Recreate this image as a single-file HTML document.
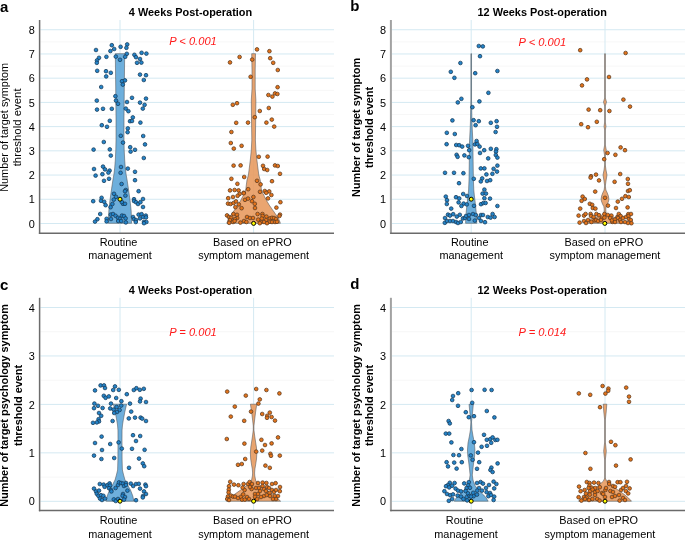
<!DOCTYPE html>
<html><head><meta charset="utf-8"><style>
html,body{margin:0;padding:0;background:#fff;}
svg{display:block;will-change:transform;}
text{font-family:"Liberation Sans",sans-serif;}
.t{font-size:10.9px;fill:#000;}
.tb{font-size:10.9px;font-weight:bold;fill:#000;}
.lab{font-size:15px;font-weight:bold;fill:#000;}
.p{font-size:11.15px;font-style:italic;fill:#ff1a1a;}
</style></head><body>
<svg width="685" height="540" viewBox="0 0 685 540">
<rect width="685" height="540" fill="#fff"/>
<line x1="40.4" x2="334" y1="211.39" y2="211.39" stroke="#f7f7f7" stroke-width="1"/>
<line x1="40.4" x2="334" y1="187.17" y2="187.17" stroke="#f7f7f7" stroke-width="1"/>
<line x1="40.4" x2="334" y1="162.95" y2="162.95" stroke="#f7f7f7" stroke-width="1"/>
<line x1="40.4" x2="334" y1="138.73" y2="138.73" stroke="#f7f7f7" stroke-width="1"/>
<line x1="40.4" x2="334" y1="114.51" y2="114.51" stroke="#f7f7f7" stroke-width="1"/>
<line x1="40.4" x2="334" y1="90.29" y2="90.29" stroke="#f7f7f7" stroke-width="1"/>
<line x1="40.4" x2="334" y1="66.07" y2="66.07" stroke="#f7f7f7" stroke-width="1"/>
<line x1="40.4" x2="334" y1="41.85" y2="41.85" stroke="#f7f7f7" stroke-width="1"/>
<line x1="40.4" x2="334" y1="223.50" y2="223.50" stroke="#d4e9f2" stroke-width="1"/>
<line x1="40.4" x2="334" y1="199.28" y2="199.28" stroke="#d4e9f2" stroke-width="1"/>
<line x1="40.4" x2="334" y1="175.06" y2="175.06" stroke="#d4e9f2" stroke-width="1"/>
<line x1="40.4" x2="334" y1="150.84" y2="150.84" stroke="#d4e9f2" stroke-width="1"/>
<line x1="40.4" x2="334" y1="126.62" y2="126.62" stroke="#d4e9f2" stroke-width="1"/>
<line x1="40.4" x2="334" y1="102.40" y2="102.40" stroke="#d4e9f2" stroke-width="1"/>
<line x1="40.4" x2="334" y1="78.18" y2="78.18" stroke="#d4e9f2" stroke-width="1"/>
<line x1="40.4" x2="334" y1="53.96" y2="53.96" stroke="#d4e9f2" stroke-width="1"/>
<line x1="40.4" x2="334" y1="29.74" y2="29.74" stroke="#d4e9f2" stroke-width="1"/>
<line x1="120.0" x2="120.0" y1="20" y2="233.3" stroke="#d4e9f2" stroke-width="1"/>
<line x1="253.6" x2="253.6" y1="20" y2="233.3" stroke="#d4e9f2" stroke-width="1"/>
<path d="M131.60,223.30 L131.60,220.00 L131.10,210.00 L130.00,200.00 L128.60,190.00 L127.10,180.00 L126.20,175.00 L125.30,168.00 L124.70,160.00 L124.20,150.00 L124.00,140.00 L124.00,118.00 L124.30,86.00 L124.70,53.70 L115.30,53.70 L115.70,86.00 L116.00,118.00 L116.00,140.00 L115.80,150.00 L115.30,160.00 L114.70,168.00 L113.80,175.00 L112.90,180.00 L111.40,190.00 L110.00,200.00 L108.90,210.00 L108.40,220.00 L108.40,223.30Z" fill="#5ea6d8" fill-opacity="0.9" stroke="#505356" stroke-width="0.55" stroke-linejoin="round"/>
<path d="M280.40,223.30 L279.20,220.00 L277.90,217.50 L275.00,213.30 L272.10,209.20 L269.20,205.00 L266.70,200.80 L264.60,196.70 L262.20,192.00 L261.25,188.30 L260.90,185.00 L260.20,180.00 L258.80,175.00 L257.90,168.00 L256.90,160.00 L255.90,150.00 L255.40,140.00 L255.70,120.00 L255.90,100.00 L255.20,89.00 L255.20,70.00 L255.50,53.70 L251.70,53.70 L252.00,70.00 L252.00,89.00 L251.30,100.00 L251.50,120.00 L251.80,140.00 L251.30,150.00 L250.30,160.00 L249.30,168.00 L248.40,175.00 L247.00,180.00 L246.30,185.00 L245.95,188.30 L245.00,192.00 L242.60,196.70 L240.50,200.80 L238.00,205.00 L235.10,209.20 L232.20,213.30 L229.30,217.50 L228.00,220.00 L226.80,223.30Z" fill="#e89b60" fill-opacity="0.9" stroke="#505356" stroke-width="0.55" stroke-linejoin="round"/>
<circle cx="96.0" cy="50.0" r="1.85" fill="#2484c9" stroke="#173a57" stroke-width="0.75"/>
<circle cx="111.8" cy="45.2" r="1.85" fill="#2484c9" stroke="#173a57" stroke-width="0.75"/>
<circle cx="114.2" cy="49.0" r="1.85" fill="#2484c9" stroke="#173a57" stroke-width="0.75"/>
<circle cx="110.4" cy="51.0" r="1.85" fill="#2484c9" stroke="#173a57" stroke-width="0.75"/>
<circle cx="120.6" cy="46.8" r="1.85" fill="#2484c9" stroke="#173a57" stroke-width="0.75"/>
<circle cx="127.2" cy="44.4" r="1.85" fill="#2484c9" stroke="#173a57" stroke-width="0.75"/>
<circle cx="126.4" cy="47.8" r="1.85" fill="#2484c9" stroke="#173a57" stroke-width="0.75"/>
<circle cx="126.8" cy="53.8" r="1.85" fill="#2484c9" stroke="#173a57" stroke-width="0.75"/>
<circle cx="125.2" cy="56.8" r="1.85" fill="#2484c9" stroke="#173a57" stroke-width="0.75"/>
<circle cx="115.8" cy="56.6" r="1.85" fill="#2484c9" stroke="#173a57" stroke-width="0.75"/>
<circle cx="120.0" cy="59.8" r="1.85" fill="#2484c9" stroke="#173a57" stroke-width="0.75"/>
<circle cx="106.4" cy="56.8" r="1.85" fill="#2484c9" stroke="#173a57" stroke-width="0.75"/>
<circle cx="99.0" cy="57.8" r="1.85" fill="#2484c9" stroke="#173a57" stroke-width="0.75"/>
<circle cx="97.0" cy="60.4" r="1.85" fill="#2484c9" stroke="#173a57" stroke-width="0.75"/>
<circle cx="96.8" cy="62.8" r="1.85" fill="#2484c9" stroke="#173a57" stroke-width="0.75"/>
<circle cx="134.4" cy="54.8" r="1.85" fill="#2484c9" stroke="#173a57" stroke-width="0.75"/>
<circle cx="136.0" cy="57.2" r="1.85" fill="#2484c9" stroke="#173a57" stroke-width="0.75"/>
<circle cx="141.6" cy="52.8" r="1.85" fill="#2484c9" stroke="#173a57" stroke-width="0.75"/>
<circle cx="146.4" cy="53.6" r="1.85" fill="#2484c9" stroke="#173a57" stroke-width="0.75"/>
<circle cx="140.0" cy="59.0" r="1.85" fill="#2484c9" stroke="#173a57" stroke-width="0.75"/>
<circle cx="137.0" cy="62.8" r="1.85" fill="#2484c9" stroke="#173a57" stroke-width="0.75"/>
<circle cx="141.4" cy="62.6" r="1.85" fill="#2484c9" stroke="#173a57" stroke-width="0.75"/>
<circle cx="97.2" cy="70.8" r="1.85" fill="#2484c9" stroke="#173a57" stroke-width="0.75"/>
<circle cx="106.0" cy="71.2" r="1.85" fill="#2484c9" stroke="#173a57" stroke-width="0.75"/>
<circle cx="110.8" cy="72.8" r="1.85" fill="#2484c9" stroke="#173a57" stroke-width="0.75"/>
<circle cx="106.2" cy="76.4" r="1.85" fill="#2484c9" stroke="#173a57" stroke-width="0.75"/>
<circle cx="140.0" cy="74.6" r="1.85" fill="#2484c9" stroke="#173a57" stroke-width="0.75"/>
<circle cx="146.0" cy="75.2" r="1.85" fill="#2484c9" stroke="#173a57" stroke-width="0.75"/>
<circle cx="143.8" cy="80.0" r="1.85" fill="#2484c9" stroke="#173a57" stroke-width="0.75"/>
<circle cx="122.0" cy="81.2" r="1.85" fill="#2484c9" stroke="#173a57" stroke-width="0.75"/>
<circle cx="125.0" cy="80.4" r="1.85" fill="#2484c9" stroke="#173a57" stroke-width="0.75"/>
<circle cx="122.8" cy="84.6" r="1.85" fill="#2484c9" stroke="#173a57" stroke-width="0.75"/>
<circle cx="101.2" cy="87.0" r="1.85" fill="#2484c9" stroke="#173a57" stroke-width="0.75"/>
<circle cx="115.4" cy="96.2" r="1.85" fill="#2484c9" stroke="#173a57" stroke-width="0.75"/>
<circle cx="116.0" cy="100.6" r="1.85" fill="#2484c9" stroke="#173a57" stroke-width="0.75"/>
<circle cx="118.0" cy="103.8" r="1.85" fill="#2484c9" stroke="#173a57" stroke-width="0.75"/>
<circle cx="96.8" cy="100.6" r="1.85" fill="#2484c9" stroke="#173a57" stroke-width="0.75"/>
<circle cx="132.0" cy="97.8" r="1.85" fill="#2484c9" stroke="#173a57" stroke-width="0.75"/>
<circle cx="146.0" cy="98.6" r="1.85" fill="#2484c9" stroke="#173a57" stroke-width="0.75"/>
<circle cx="127.0" cy="102.0" r="1.85" fill="#2484c9" stroke="#173a57" stroke-width="0.75"/>
<circle cx="140.0" cy="102.6" r="1.85" fill="#2484c9" stroke="#173a57" stroke-width="0.75"/>
<circle cx="144.6" cy="104.8" r="1.85" fill="#2484c9" stroke="#173a57" stroke-width="0.75"/>
<circle cx="142.8" cy="108.6" r="1.85" fill="#2484c9" stroke="#173a57" stroke-width="0.75"/>
<circle cx="97.0" cy="109.6" r="1.85" fill="#2484c9" stroke="#173a57" stroke-width="0.75"/>
<circle cx="103.0" cy="108.8" r="1.85" fill="#2484c9" stroke="#173a57" stroke-width="0.75"/>
<circle cx="111.8" cy="108.8" r="1.85" fill="#2484c9" stroke="#173a57" stroke-width="0.75"/>
<circle cx="125.8" cy="108.6" r="1.85" fill="#2484c9" stroke="#173a57" stroke-width="0.75"/>
<circle cx="128.4" cy="111.2" r="1.85" fill="#2484c9" stroke="#173a57" stroke-width="0.75"/>
<circle cx="132.8" cy="117.4" r="1.85" fill="#2484c9" stroke="#173a57" stroke-width="0.75"/>
<circle cx="130.0" cy="121.2" r="1.85" fill="#2484c9" stroke="#173a57" stroke-width="0.75"/>
<circle cx="132.0" cy="121.0" r="1.85" fill="#2484c9" stroke="#173a57" stroke-width="0.75"/>
<circle cx="140.4" cy="122.6" r="1.85" fill="#2484c9" stroke="#173a57" stroke-width="0.75"/>
<circle cx="109.8" cy="120.8" r="1.85" fill="#2484c9" stroke="#173a57" stroke-width="0.75"/>
<circle cx="101.8" cy="125.2" r="1.85" fill="#2484c9" stroke="#173a57" stroke-width="0.75"/>
<circle cx="107.0" cy="126.8" r="1.85" fill="#2484c9" stroke="#173a57" stroke-width="0.75"/>
<circle cx="127.8" cy="128.4" r="1.85" fill="#2484c9" stroke="#173a57" stroke-width="0.75"/>
<circle cx="127.6" cy="132.2" r="1.85" fill="#2484c9" stroke="#173a57" stroke-width="0.75"/>
<circle cx="120.8" cy="135.8" r="1.85" fill="#2484c9" stroke="#173a57" stroke-width="0.75"/>
<circle cx="143.2" cy="136.0" r="1.85" fill="#2484c9" stroke="#173a57" stroke-width="0.75"/>
<circle cx="103.8" cy="142.0" r="1.85" fill="#2484c9" stroke="#173a57" stroke-width="0.75"/>
<circle cx="123.0" cy="142.6" r="1.85" fill="#2484c9" stroke="#173a57" stroke-width="0.75"/>
<circle cx="145.0" cy="144.4" r="1.85" fill="#2484c9" stroke="#173a57" stroke-width="0.75"/>
<circle cx="93.6" cy="149.6" r="1.85" fill="#2484c9" stroke="#173a57" stroke-width="0.75"/>
<circle cx="109.8" cy="149.4" r="1.85" fill="#2484c9" stroke="#173a57" stroke-width="0.75"/>
<circle cx="130.2" cy="147.2" r="1.85" fill="#2484c9" stroke="#173a57" stroke-width="0.75"/>
<circle cx="135.0" cy="149.8" r="1.85" fill="#2484c9" stroke="#173a57" stroke-width="0.75"/>
<circle cx="130.6" cy="151.6" r="1.85" fill="#2484c9" stroke="#173a57" stroke-width="0.75"/>
<circle cx="110.8" cy="155.6" r="1.85" fill="#2484c9" stroke="#173a57" stroke-width="0.75"/>
<circle cx="143.8" cy="158.0" r="1.85" fill="#2484c9" stroke="#173a57" stroke-width="0.75"/>
<circle cx="103.0" cy="166.6" r="1.85" fill="#2484c9" stroke="#173a57" stroke-width="0.75"/>
<circle cx="105.0" cy="169.4" r="1.85" fill="#2484c9" stroke="#173a57" stroke-width="0.75"/>
<circle cx="109.6" cy="170.6" r="1.85" fill="#2484c9" stroke="#173a57" stroke-width="0.75"/>
<circle cx="108.4" cy="172.6" r="1.85" fill="#2484c9" stroke="#173a57" stroke-width="0.75"/>
<circle cx="94.0" cy="169.0" r="1.85" fill="#2484c9" stroke="#173a57" stroke-width="0.75"/>
<circle cx="102.4" cy="174.2" r="1.85" fill="#2484c9" stroke="#173a57" stroke-width="0.75"/>
<circle cx="95.6" cy="175.6" r="1.85" fill="#2484c9" stroke="#173a57" stroke-width="0.75"/>
<circle cx="121.0" cy="167.0" r="1.85" fill="#2484c9" stroke="#173a57" stroke-width="0.75"/>
<circle cx="120.6" cy="172.8" r="1.85" fill="#2484c9" stroke="#173a57" stroke-width="0.75"/>
<circle cx="127.8" cy="168.6" r="1.85" fill="#2484c9" stroke="#173a57" stroke-width="0.75"/>
<circle cx="135.0" cy="171.8" r="1.85" fill="#2484c9" stroke="#173a57" stroke-width="0.75"/>
<circle cx="109.0" cy="178.8" r="1.85" fill="#2484c9" stroke="#173a57" stroke-width="0.75"/>
<circle cx="104.0" cy="180.8" r="1.85" fill="#2484c9" stroke="#173a57" stroke-width="0.75"/>
<circle cx="135.0" cy="180.2" r="1.85" fill="#2484c9" stroke="#173a57" stroke-width="0.75"/>
<circle cx="121.6" cy="184.0" r="1.85" fill="#2484c9" stroke="#173a57" stroke-width="0.75"/>
<circle cx="125.8" cy="190.0" r="1.85" fill="#2484c9" stroke="#173a57" stroke-width="0.75"/>
<circle cx="125.0" cy="191.2" r="1.85" fill="#2484c9" stroke="#173a57" stroke-width="0.75"/>
<circle cx="138.6" cy="191.2" r="1.85" fill="#2484c9" stroke="#173a57" stroke-width="0.75"/>
<circle cx="114.0" cy="193.8" r="1.85" fill="#2484c9" stroke="#173a57" stroke-width="0.75"/>
<circle cx="116.0" cy="196.8" r="1.85" fill="#2484c9" stroke="#173a57" stroke-width="0.75"/>
<circle cx="113.8" cy="199.6" r="1.85" fill="#2484c9" stroke="#173a57" stroke-width="0.75"/>
<circle cx="125.4" cy="195.6" r="1.85" fill="#2484c9" stroke="#173a57" stroke-width="0.75"/>
<circle cx="101.6" cy="197.8" r="1.85" fill="#2484c9" stroke="#173a57" stroke-width="0.75"/>
<circle cx="101.0" cy="200.8" r="1.85" fill="#2484c9" stroke="#173a57" stroke-width="0.75"/>
<circle cx="93.2" cy="201.2" r="1.85" fill="#2484c9" stroke="#173a57" stroke-width="0.75"/>
<circle cx="104.2" cy="201.8" r="1.85" fill="#2484c9" stroke="#173a57" stroke-width="0.75"/>
<circle cx="105.6" cy="205.2" r="1.85" fill="#2484c9" stroke="#173a57" stroke-width="0.75"/>
<circle cx="112.4" cy="204.0" r="1.85" fill="#2484c9" stroke="#173a57" stroke-width="0.75"/>
<circle cx="110.6" cy="207.2" r="1.85" fill="#2484c9" stroke="#173a57" stroke-width="0.75"/>
<circle cx="123.0" cy="203.8" r="1.85" fill="#2484c9" stroke="#173a57" stroke-width="0.75"/>
<circle cx="125.0" cy="203.8" r="1.85" fill="#2484c9" stroke="#173a57" stroke-width="0.75"/>
<circle cx="121.8" cy="202.0" r="1.85" fill="#2484c9" stroke="#173a57" stroke-width="0.75"/>
<circle cx="134.0" cy="199.2" r="1.85" fill="#2484c9" stroke="#173a57" stroke-width="0.75"/>
<circle cx="134.0" cy="201.0" r="1.85" fill="#2484c9" stroke="#173a57" stroke-width="0.75"/>
<circle cx="136.0" cy="202.2" r="1.85" fill="#2484c9" stroke="#173a57" stroke-width="0.75"/>
<circle cx="138.0" cy="204.0" r="1.85" fill="#2484c9" stroke="#173a57" stroke-width="0.75"/>
<circle cx="140.4" cy="202.2" r="1.85" fill="#2484c9" stroke="#173a57" stroke-width="0.75"/>
<circle cx="143.0" cy="199.0" r="1.85" fill="#2484c9" stroke="#173a57" stroke-width="0.75"/>
<circle cx="143.0" cy="207.0" r="1.85" fill="#2484c9" stroke="#173a57" stroke-width="0.75"/>
<circle cx="100.2" cy="214.0" r="1.85" fill="#2484c9" stroke="#173a57" stroke-width="0.75"/>
<circle cx="97.4" cy="219.2" r="1.85" fill="#2484c9" stroke="#173a57" stroke-width="0.75"/>
<circle cx="95.0" cy="221.6" r="1.85" fill="#2484c9" stroke="#173a57" stroke-width="0.75"/>
<circle cx="106.6" cy="218.8" r="1.85" fill="#2484c9" stroke="#173a57" stroke-width="0.75"/>
<circle cx="106.6" cy="221.4" r="1.85" fill="#2484c9" stroke="#173a57" stroke-width="0.75"/>
<circle cx="111.0" cy="219.0" r="1.85" fill="#2484c9" stroke="#173a57" stroke-width="0.75"/>
<circle cx="110.8" cy="214.6" r="1.85" fill="#2484c9" stroke="#173a57" stroke-width="0.75"/>
<circle cx="113.0" cy="214.0" r="1.85" fill="#2484c9" stroke="#173a57" stroke-width="0.75"/>
<circle cx="115.6" cy="215.8" r="1.85" fill="#2484c9" stroke="#173a57" stroke-width="0.75"/>
<circle cx="118.0" cy="217.8" r="1.85" fill="#2484c9" stroke="#173a57" stroke-width="0.75"/>
<circle cx="120.0" cy="218.8" r="1.85" fill="#2484c9" stroke="#173a57" stroke-width="0.75"/>
<circle cx="122.0" cy="215.6" r="1.85" fill="#2484c9" stroke="#173a57" stroke-width="0.75"/>
<circle cx="124.0" cy="216.0" r="1.85" fill="#2484c9" stroke="#173a57" stroke-width="0.75"/>
<circle cx="125.6" cy="218.4" r="1.85" fill="#2484c9" stroke="#173a57" stroke-width="0.75"/>
<circle cx="118.2" cy="221.0" r="1.85" fill="#2484c9" stroke="#173a57" stroke-width="0.75"/>
<circle cx="121.2" cy="221.0" r="1.85" fill="#2484c9" stroke="#173a57" stroke-width="0.75"/>
<circle cx="125.8" cy="222.4" r="1.85" fill="#2484c9" stroke="#173a57" stroke-width="0.75"/>
<circle cx="133.0" cy="217.0" r="1.85" fill="#2484c9" stroke="#173a57" stroke-width="0.75"/>
<circle cx="134.0" cy="219.2" r="1.85" fill="#2484c9" stroke="#173a57" stroke-width="0.75"/>
<circle cx="136.0" cy="220.0" r="1.85" fill="#2484c9" stroke="#173a57" stroke-width="0.75"/>
<circle cx="135.8" cy="222.0" r="1.85" fill="#2484c9" stroke="#173a57" stroke-width="0.75"/>
<circle cx="138.6" cy="214.6" r="1.85" fill="#2484c9" stroke="#173a57" stroke-width="0.75"/>
<circle cx="141.6" cy="214.2" r="1.85" fill="#2484c9" stroke="#173a57" stroke-width="0.75"/>
<circle cx="140.0" cy="218.4" r="1.85" fill="#2484c9" stroke="#173a57" stroke-width="0.75"/>
<circle cx="143.0" cy="217.0" r="1.85" fill="#2484c9" stroke="#173a57" stroke-width="0.75"/>
<circle cx="145.8" cy="215.6" r="1.85" fill="#2484c9" stroke="#173a57" stroke-width="0.75"/>
<circle cx="146.0" cy="217.4" r="1.85" fill="#2484c9" stroke="#173a57" stroke-width="0.75"/>
<circle cx="144.0" cy="221.8" r="1.85" fill="#2484c9" stroke="#173a57" stroke-width="0.75"/>
<circle cx="146.4" cy="222.0" r="1.85" fill="#2484c9" stroke="#173a57" stroke-width="0.75"/>
<circle cx="144.0" cy="223.2" r="1.85" fill="#2484c9" stroke="#173a57" stroke-width="0.75"/>
<circle cx="257.0" cy="49.4" r="1.85" fill="#e4741b" stroke="#5a3a20" stroke-width="0.75"/>
<circle cx="269.4" cy="51.2" r="1.85" fill="#e4741b" stroke="#5a3a20" stroke-width="0.75"/>
<circle cx="239.6" cy="57.0" r="1.85" fill="#e4741b" stroke="#5a3a20" stroke-width="0.75"/>
<circle cx="230.0" cy="62.4" r="1.85" fill="#e4741b" stroke="#5a3a20" stroke-width="0.75"/>
<circle cx="252.2" cy="59.6" r="1.85" fill="#e4741b" stroke="#5a3a20" stroke-width="0.75"/>
<circle cx="270.2" cy="58.2" r="1.85" fill="#e4741b" stroke="#5a3a20" stroke-width="0.75"/>
<circle cx="273.2" cy="62.8" r="1.85" fill="#e4741b" stroke="#5a3a20" stroke-width="0.75"/>
<circle cx="277.8" cy="70.0" r="1.85" fill="#e4741b" stroke="#5a3a20" stroke-width="0.75"/>
<circle cx="250.6" cy="76.8" r="1.85" fill="#e4741b" stroke="#5a3a20" stroke-width="0.75"/>
<circle cx="277.6" cy="87.2" r="1.85" fill="#e4741b" stroke="#5a3a20" stroke-width="0.75"/>
<circle cx="268.4" cy="95.0" r="1.85" fill="#e4741b" stroke="#5a3a20" stroke-width="0.75"/>
<circle cx="272.4" cy="96.6" r="1.85" fill="#e4741b" stroke="#5a3a20" stroke-width="0.75"/>
<circle cx="275.0" cy="93.4" r="1.85" fill="#e4741b" stroke="#5a3a20" stroke-width="0.75"/>
<circle cx="277.4" cy="94.0" r="1.85" fill="#e4741b" stroke="#5a3a20" stroke-width="0.75"/>
<circle cx="232.8" cy="104.8" r="1.85" fill="#e4741b" stroke="#5a3a20" stroke-width="0.75"/>
<circle cx="237.0" cy="103.2" r="1.85" fill="#e4741b" stroke="#5a3a20" stroke-width="0.75"/>
<circle cx="268.8" cy="108.0" r="1.85" fill="#e4741b" stroke="#5a3a20" stroke-width="0.75"/>
<circle cx="259.8" cy="111.0" r="1.85" fill="#e4741b" stroke="#5a3a20" stroke-width="0.75"/>
<circle cx="254.8" cy="117.2" r="1.85" fill="#e4741b" stroke="#5a3a20" stroke-width="0.75"/>
<circle cx="236.2" cy="122.8" r="1.85" fill="#e4741b" stroke="#5a3a20" stroke-width="0.75"/>
<circle cx="248.0" cy="122.6" r="1.85" fill="#e4741b" stroke="#5a3a20" stroke-width="0.75"/>
<circle cx="266.4" cy="122.6" r="1.85" fill="#e4741b" stroke="#5a3a20" stroke-width="0.75"/>
<circle cx="271.8" cy="119.6" r="1.85" fill="#e4741b" stroke="#5a3a20" stroke-width="0.75"/>
<circle cx="274.2" cy="126.6" r="1.85" fill="#e4741b" stroke="#5a3a20" stroke-width="0.75"/>
<circle cx="231.4" cy="132.0" r="1.85" fill="#e4741b" stroke="#5a3a20" stroke-width="0.75"/>
<circle cx="230.8" cy="143.0" r="1.85" fill="#e4741b" stroke="#5a3a20" stroke-width="0.75"/>
<circle cx="241.6" cy="145.8" r="1.85" fill="#e4741b" stroke="#5a3a20" stroke-width="0.75"/>
<circle cx="233.8" cy="148.6" r="1.85" fill="#e4741b" stroke="#5a3a20" stroke-width="0.75"/>
<circle cx="258.8" cy="156.8" r="1.85" fill="#e4741b" stroke="#5a3a20" stroke-width="0.75"/>
<circle cx="267.6" cy="156.6" r="1.85" fill="#e4741b" stroke="#5a3a20" stroke-width="0.75"/>
<circle cx="233.6" cy="165.6" r="1.85" fill="#e4741b" stroke="#5a3a20" stroke-width="0.75"/>
<circle cx="240.6" cy="165.4" r="1.85" fill="#e4741b" stroke="#5a3a20" stroke-width="0.75"/>
<circle cx="263.0" cy="165.8" r="1.85" fill="#e4741b" stroke="#5a3a20" stroke-width="0.75"/>
<circle cx="264.2" cy="169.0" r="1.85" fill="#e4741b" stroke="#5a3a20" stroke-width="0.75"/>
<circle cx="267.2" cy="170.0" r="1.85" fill="#e4741b" stroke="#5a3a20" stroke-width="0.75"/>
<circle cx="275.0" cy="165.4" r="1.85" fill="#e4741b" stroke="#5a3a20" stroke-width="0.75"/>
<circle cx="277.8" cy="166.0" r="1.85" fill="#e4741b" stroke="#5a3a20" stroke-width="0.75"/>
<circle cx="280.0" cy="173.8" r="1.85" fill="#e4741b" stroke="#5a3a20" stroke-width="0.75"/>
<circle cx="231.4" cy="178.8" r="1.85" fill="#e4741b" stroke="#5a3a20" stroke-width="0.75"/>
<circle cx="244.2" cy="177.0" r="1.85" fill="#e4741b" stroke="#5a3a20" stroke-width="0.75"/>
<circle cx="257.0" cy="180.8" r="1.85" fill="#e4741b" stroke="#5a3a20" stroke-width="0.75"/>
<circle cx="260.6" cy="184.4" r="1.85" fill="#e4741b" stroke="#5a3a20" stroke-width="0.75"/>
<circle cx="272.0" cy="181.2" r="1.85" fill="#e4741b" stroke="#5a3a20" stroke-width="0.75"/>
<circle cx="237.4" cy="183.8" r="1.85" fill="#e4741b" stroke="#5a3a20" stroke-width="0.75"/>
<circle cx="230.0" cy="190.4" r="1.85" fill="#e4741b" stroke="#5a3a20" stroke-width="0.75"/>
<circle cx="234.6" cy="190.0" r="1.85" fill="#e4741b" stroke="#5a3a20" stroke-width="0.75"/>
<circle cx="238.6" cy="190.4" r="1.85" fill="#e4741b" stroke="#5a3a20" stroke-width="0.75"/>
<circle cx="248.2" cy="189.2" r="1.85" fill="#e4741b" stroke="#5a3a20" stroke-width="0.75"/>
<circle cx="243.6" cy="192.8" r="1.85" fill="#e4741b" stroke="#5a3a20" stroke-width="0.75"/>
<circle cx="260.0" cy="191.8" r="1.85" fill="#e4741b" stroke="#5a3a20" stroke-width="0.75"/>
<circle cx="264.8" cy="191.0" r="1.85" fill="#e4741b" stroke="#5a3a20" stroke-width="0.75"/>
<circle cx="269.2" cy="191.4" r="1.85" fill="#e4741b" stroke="#5a3a20" stroke-width="0.75"/>
<circle cx="266.2" cy="192.8" r="1.85" fill="#e4741b" stroke="#5a3a20" stroke-width="0.75"/>
<circle cx="239.6" cy="194.0" r="1.85" fill="#e4741b" stroke="#5a3a20" stroke-width="0.75"/>
<circle cx="237.6" cy="195.8" r="1.85" fill="#e4741b" stroke="#5a3a20" stroke-width="0.75"/>
<circle cx="243.8" cy="193.2" r="1.85" fill="#e4741b" stroke="#5a3a20" stroke-width="0.75"/>
<circle cx="228.2" cy="198.2" r="1.85" fill="#e4741b" stroke="#5a3a20" stroke-width="0.75"/>
<circle cx="233.0" cy="197.0" r="1.85" fill="#e4741b" stroke="#5a3a20" stroke-width="0.75"/>
<circle cx="245.0" cy="199.8" r="1.85" fill="#e4741b" stroke="#5a3a20" stroke-width="0.75"/>
<circle cx="248.0" cy="198.6" r="1.85" fill="#e4741b" stroke="#5a3a20" stroke-width="0.75"/>
<circle cx="253.4" cy="197.0" r="1.85" fill="#e4741b" stroke="#5a3a20" stroke-width="0.75"/>
<circle cx="252.0" cy="201.2" r="1.85" fill="#e4741b" stroke="#5a3a20" stroke-width="0.75"/>
<circle cx="254.8" cy="203.8" r="1.85" fill="#e4741b" stroke="#5a3a20" stroke-width="0.75"/>
<circle cx="255.0" cy="208.0" r="1.85" fill="#e4741b" stroke="#5a3a20" stroke-width="0.75"/>
<circle cx="228.0" cy="203.6" r="1.85" fill="#e4741b" stroke="#5a3a20" stroke-width="0.75"/>
<circle cx="230.6" cy="204.0" r="1.85" fill="#e4741b" stroke="#5a3a20" stroke-width="0.75"/>
<circle cx="233.6" cy="203.0" r="1.85" fill="#e4741b" stroke="#5a3a20" stroke-width="0.75"/>
<circle cx="236.0" cy="201.4" r="1.85" fill="#e4741b" stroke="#5a3a20" stroke-width="0.75"/>
<circle cx="238.8" cy="204.4" r="1.85" fill="#e4741b" stroke="#5a3a20" stroke-width="0.75"/>
<circle cx="235.4" cy="207.2" r="1.85" fill="#e4741b" stroke="#5a3a20" stroke-width="0.75"/>
<circle cx="241.6" cy="208.2" r="1.85" fill="#e4741b" stroke="#5a3a20" stroke-width="0.75"/>
<circle cx="271.4" cy="195.0" r="1.85" fill="#e4741b" stroke="#5a3a20" stroke-width="0.75"/>
<circle cx="268.0" cy="198.4" r="1.85" fill="#e4741b" stroke="#5a3a20" stroke-width="0.75"/>
<circle cx="280.4" cy="202.2" r="1.85" fill="#e4741b" stroke="#5a3a20" stroke-width="0.75"/>
<circle cx="276.4" cy="207.6" r="1.85" fill="#e4741b" stroke="#5a3a20" stroke-width="0.75"/>
<circle cx="280.0" cy="214.6" r="1.85" fill="#e4741b" stroke="#5a3a20" stroke-width="0.75"/>
<circle cx="279.4" cy="216.0" r="1.85" fill="#e4741b" stroke="#5a3a20" stroke-width="0.75"/>
<circle cx="227.0" cy="215.4" r="1.85" fill="#e4741b" stroke="#5a3a20" stroke-width="0.75"/>
<circle cx="229.0" cy="217.0" r="1.85" fill="#e4741b" stroke="#5a3a20" stroke-width="0.75"/>
<circle cx="231.0" cy="217.8" r="1.85" fill="#e4741b" stroke="#5a3a20" stroke-width="0.75"/>
<circle cx="233.4" cy="214.0" r="1.85" fill="#e4741b" stroke="#5a3a20" stroke-width="0.75"/>
<circle cx="237.0" cy="214.8" r="1.85" fill="#e4741b" stroke="#5a3a20" stroke-width="0.75"/>
<circle cx="237.2" cy="218.0" r="1.85" fill="#e4741b" stroke="#5a3a20" stroke-width="0.75"/>
<circle cx="235.0" cy="219.0" r="1.85" fill="#e4741b" stroke="#5a3a20" stroke-width="0.75"/>
<circle cx="230.0" cy="220.0" r="1.85" fill="#e4741b" stroke="#5a3a20" stroke-width="0.75"/>
<circle cx="229.2" cy="222.8" r="1.85" fill="#e4741b" stroke="#5a3a20" stroke-width="0.75"/>
<circle cx="233.0" cy="222.0" r="1.85" fill="#e4741b" stroke="#5a3a20" stroke-width="0.75"/>
<circle cx="234.6" cy="221.0" r="1.85" fill="#e4741b" stroke="#5a3a20" stroke-width="0.75"/>
<circle cx="240.4" cy="222.6" r="1.85" fill="#e4741b" stroke="#5a3a20" stroke-width="0.75"/>
<circle cx="244.0" cy="221.0" r="1.85" fill="#e4741b" stroke="#5a3a20" stroke-width="0.75"/>
<circle cx="247.0" cy="217.0" r="1.85" fill="#e4741b" stroke="#5a3a20" stroke-width="0.75"/>
<circle cx="246.4" cy="222.0" r="1.85" fill="#e4741b" stroke="#5a3a20" stroke-width="0.75"/>
<circle cx="250.0" cy="218.0" r="1.85" fill="#e4741b" stroke="#5a3a20" stroke-width="0.75"/>
<circle cx="253.0" cy="218.0" r="1.85" fill="#e4741b" stroke="#5a3a20" stroke-width="0.75"/>
<circle cx="257.6" cy="214.0" r="1.85" fill="#e4741b" stroke="#5a3a20" stroke-width="0.75"/>
<circle cx="258.2" cy="219.6" r="1.85" fill="#e4741b" stroke="#5a3a20" stroke-width="0.75"/>
<circle cx="262.4" cy="214.0" r="1.85" fill="#e4741b" stroke="#5a3a20" stroke-width="0.75"/>
<circle cx="262.6" cy="216.0" r="1.85" fill="#e4741b" stroke="#5a3a20" stroke-width="0.75"/>
<circle cx="261.8" cy="218.6" r="1.85" fill="#e4741b" stroke="#5a3a20" stroke-width="0.75"/>
<circle cx="261.0" cy="222.0" r="1.85" fill="#e4741b" stroke="#5a3a20" stroke-width="0.75"/>
<circle cx="259.8" cy="223.2" r="1.85" fill="#e4741b" stroke="#5a3a20" stroke-width="0.75"/>
<circle cx="266.4" cy="216.6" r="1.85" fill="#e4741b" stroke="#5a3a20" stroke-width="0.75"/>
<circle cx="266.0" cy="220.0" r="1.85" fill="#e4741b" stroke="#5a3a20" stroke-width="0.75"/>
<circle cx="267.0" cy="223.2" r="1.85" fill="#e4741b" stroke="#5a3a20" stroke-width="0.75"/>
<circle cx="270.0" cy="218.4" r="1.85" fill="#e4741b" stroke="#5a3a20" stroke-width="0.75"/>
<circle cx="272.0" cy="217.8" r="1.85" fill="#e4741b" stroke="#5a3a20" stroke-width="0.75"/>
<circle cx="274.0" cy="218.0" r="1.85" fill="#e4741b" stroke="#5a3a20" stroke-width="0.75"/>
<circle cx="276.0" cy="219.0" r="1.85" fill="#e4741b" stroke="#5a3a20" stroke-width="0.75"/>
<circle cx="270.0" cy="221.8" r="1.85" fill="#e4741b" stroke="#5a3a20" stroke-width="0.75"/>
<circle cx="272.0" cy="222.0" r="1.85" fill="#e4741b" stroke="#5a3a20" stroke-width="0.75"/>
<circle cx="275.0" cy="222.0" r="1.85" fill="#e4741b" stroke="#5a3a20" stroke-width="0.75"/>
<circle cx="277.0" cy="221.8" r="1.85" fill="#e4741b" stroke="#5a3a20" stroke-width="0.75"/>
<circle cx="264.0" cy="222.0" r="1.85" fill="#e4741b" stroke="#5a3a20" stroke-width="0.75"/>
<circle cx="120.0" cy="199.2" r="2.0" fill="#ffff00" stroke="#000" stroke-width="1.0"/>
<circle cx="253.6" cy="223.4" r="2.0" fill="#ffff00" stroke="#000" stroke-width="1.0"/>
<line x1="39.6" x2="39.6" y1="20" y2="234.0" stroke="#6c6c6c" stroke-width="1.5"/>
<line x1="38.9" x2="334" y1="233.3" y2="233.3" stroke="#6a6a6a" stroke-width="1.5"/>
<text x="34.9" y="227.65" text-anchor="end" class="t">0</text>
<text x="34.9" y="203.43" text-anchor="end" class="t">1</text>
<text x="34.9" y="179.21" text-anchor="end" class="t">2</text>
<text x="34.9" y="154.99" text-anchor="end" class="t">3</text>
<text x="34.9" y="130.77" text-anchor="end" class="t">4</text>
<text x="34.9" y="106.55" text-anchor="end" class="t">5</text>
<text x="34.9" y="82.33" text-anchor="end" class="t">6</text>
<text x="34.9" y="58.11" text-anchor="end" class="t">7</text>
<text x="34.9" y="33.89" text-anchor="end" class="t">8</text>
<text x="0.0" y="12.3" class="lab">a</text>
<text x="190.5" y="15.7" text-anchor="middle" class="tb">4 Weeks Post-operation</text>
<text x="169.2" y="45.1" class="p">P &lt; 0.001</text>
<text x="118.5" y="246.0" text-anchor="middle" class="t">Routine</text>
<text x="120.0" y="259.2" text-anchor="middle" class="t">management</text>
<text x="252.4" y="246.0" text-anchor="middle" class="t">Based on ePRO</text>
<text x="253.6" y="259.2" text-anchor="middle" class="t">symptom management</text>
<text transform="translate(8.1,127.4) rotate(-90)" text-anchor="middle" class="t">Number of target symptom</text>
<text transform="translate(20.8,127.4) rotate(-90)" text-anchor="middle" class="t" style="font-size:11.4px">threshold event</text>
<line x1="391.7" x2="685" y1="211.39" y2="211.39" stroke="#f7f7f7" stroke-width="1"/>
<line x1="391.7" x2="685" y1="187.17" y2="187.17" stroke="#f7f7f7" stroke-width="1"/>
<line x1="391.7" x2="685" y1="162.95" y2="162.95" stroke="#f7f7f7" stroke-width="1"/>
<line x1="391.7" x2="685" y1="138.73" y2="138.73" stroke="#f7f7f7" stroke-width="1"/>
<line x1="391.7" x2="685" y1="114.51" y2="114.51" stroke="#f7f7f7" stroke-width="1"/>
<line x1="391.7" x2="685" y1="90.29" y2="90.29" stroke="#f7f7f7" stroke-width="1"/>
<line x1="391.7" x2="685" y1="66.07" y2="66.07" stroke="#f7f7f7" stroke-width="1"/>
<line x1="391.7" x2="685" y1="41.85" y2="41.85" stroke="#f7f7f7" stroke-width="1"/>
<line x1="391.7" x2="685" y1="223.50" y2="223.50" stroke="#d4e9f2" stroke-width="1"/>
<line x1="391.7" x2="685" y1="199.28" y2="199.28" stroke="#d4e9f2" stroke-width="1"/>
<line x1="391.7" x2="685" y1="175.06" y2="175.06" stroke="#d4e9f2" stroke-width="1"/>
<line x1="391.7" x2="685" y1="150.84" y2="150.84" stroke="#d4e9f2" stroke-width="1"/>
<line x1="391.7" x2="685" y1="126.62" y2="126.62" stroke="#d4e9f2" stroke-width="1"/>
<line x1="391.7" x2="685" y1="102.40" y2="102.40" stroke="#d4e9f2" stroke-width="1"/>
<line x1="391.7" x2="685" y1="78.18" y2="78.18" stroke="#d4e9f2" stroke-width="1"/>
<line x1="391.7" x2="685" y1="53.96" y2="53.96" stroke="#d4e9f2" stroke-width="1"/>
<line x1="391.7" x2="685" y1="29.74" y2="29.74" stroke="#d4e9f2" stroke-width="1"/>
<line x1="471.2" x2="471.2" y1="20" y2="233.3" stroke="#d4e9f2" stroke-width="1"/>
<line x1="605.0" x2="605.0" y1="20" y2="233.3" stroke="#d4e9f2" stroke-width="1"/>
<path d="M476.80,223.30 L476.50,216.00 L476.00,210.00 L475.50,205.00 L474.90,200.00 L474.30,195.00 L473.80,190.00 L473.40,180.00 L473.10,160.00 L472.90,142.00 L472.30,130.00 L472.00,123.00 L471.52,100.00 L471.52,53.70 L470.88,53.70 L470.88,100.00 L470.40,123.00 L470.10,130.00 L469.50,142.00 L469.30,160.00 L469.00,180.00 L468.60,190.00 L468.10,195.00 L467.50,200.00 L466.90,205.00 L466.40,210.00 L465.90,216.00 L465.60,223.30Z" fill="#5ea6d8" fill-opacity="0.9" stroke="#505356" stroke-width="0.55" stroke-linejoin="round"/>
<path d="M624.00,223.30 L622.50,221.00 L620.50,219.50 L617.00,218.00 L611.00,216.50 L608.00,215.00 L606.50,213.50 L605.90,212.00 L605.80,209.00 L606.20,206.50 L607.50,204.00 L608.60,201.00 L608.90,199.00 L608.40,196.00 L607.30,193.00 L605.90,190.00 L605.32,186.00 L606.00,181.00 L607.00,175.00 L606.00,170.00 L605.32,165.00 L605.32,156.00 L606.30,150.00 L605.32,145.00 L605.32,130.00 L606.00,126.50 L605.32,122.00 L605.32,106.00 L606.50,102.00 L605.32,98.00 L605.32,78.00 L605.32,53.70 L604.68,53.70 L604.68,78.00 L604.68,98.00 L603.50,102.00 L604.68,106.00 L604.68,122.00 L604.00,126.50 L604.68,130.00 L604.68,145.00 L603.70,150.00 L604.68,156.00 L604.68,165.00 L604.00,170.00 L603.00,175.00 L604.00,181.00 L604.68,186.00 L604.10,190.00 L602.70,193.00 L601.60,196.00 L601.10,199.00 L601.40,201.00 L602.50,204.00 L603.80,206.50 L604.20,209.00 L604.10,212.00 L603.50,213.50 L602.00,215.00 L599.00,216.50 L593.00,218.00 L589.50,219.50 L587.50,221.00 L586.00,223.30Z" fill="#e89b60" fill-opacity="0.9" stroke="#505356" stroke-width="0.55" stroke-linejoin="round"/>
<circle cx="478.8" cy="46.0" r="1.85" fill="#2484c9" stroke="#173a57" stroke-width="0.75"/>
<circle cx="482.8" cy="46.4" r="1.85" fill="#2484c9" stroke="#173a57" stroke-width="0.75"/>
<circle cx="480.0" cy="56.2" r="1.85" fill="#2484c9" stroke="#173a57" stroke-width="0.75"/>
<circle cx="460.4" cy="63.0" r="1.85" fill="#2484c9" stroke="#173a57" stroke-width="0.75"/>
<circle cx="450.8" cy="71.8" r="1.85" fill="#2484c9" stroke="#173a57" stroke-width="0.75"/>
<circle cx="454.4" cy="77.8" r="1.85" fill="#2484c9" stroke="#173a57" stroke-width="0.75"/>
<circle cx="475.2" cy="73.2" r="1.85" fill="#2484c9" stroke="#173a57" stroke-width="0.75"/>
<circle cx="497.4" cy="71.0" r="1.85" fill="#2484c9" stroke="#173a57" stroke-width="0.75"/>
<circle cx="488.4" cy="92.8" r="1.85" fill="#2484c9" stroke="#173a57" stroke-width="0.75"/>
<circle cx="461.4" cy="98.8" r="1.85" fill="#2484c9" stroke="#173a57" stroke-width="0.75"/>
<circle cx="457.8" cy="102.4" r="1.85" fill="#2484c9" stroke="#173a57" stroke-width="0.75"/>
<circle cx="479.4" cy="101.4" r="1.85" fill="#2484c9" stroke="#173a57" stroke-width="0.75"/>
<circle cx="472.4" cy="107.2" r="1.85" fill="#2484c9" stroke="#173a57" stroke-width="0.75"/>
<circle cx="452.4" cy="120.4" r="1.85" fill="#2484c9" stroke="#173a57" stroke-width="0.75"/>
<circle cx="473.6" cy="120.2" r="1.85" fill="#2484c9" stroke="#173a57" stroke-width="0.75"/>
<circle cx="478.8" cy="121.2" r="1.85" fill="#2484c9" stroke="#173a57" stroke-width="0.75"/>
<circle cx="475.6" cy="125.2" r="1.85" fill="#2484c9" stroke="#173a57" stroke-width="0.75"/>
<circle cx="490.8" cy="122.8" r="1.85" fill="#2484c9" stroke="#173a57" stroke-width="0.75"/>
<circle cx="496.6" cy="121.2" r="1.85" fill="#2484c9" stroke="#173a57" stroke-width="0.75"/>
<circle cx="497.0" cy="126.8" r="1.85" fill="#2484c9" stroke="#173a57" stroke-width="0.75"/>
<circle cx="495.6" cy="132.0" r="1.85" fill="#2484c9" stroke="#173a57" stroke-width="0.75"/>
<circle cx="446.8" cy="132.8" r="1.85" fill="#2484c9" stroke="#173a57" stroke-width="0.75"/>
<circle cx="454.8" cy="134.0" r="1.85" fill="#2484c9" stroke="#173a57" stroke-width="0.75"/>
<circle cx="476.6" cy="141.0" r="1.85" fill="#2484c9" stroke="#173a57" stroke-width="0.75"/>
<circle cx="446.6" cy="144.2" r="1.85" fill="#2484c9" stroke="#173a57" stroke-width="0.75"/>
<circle cx="456.2" cy="145.0" r="1.85" fill="#2484c9" stroke="#173a57" stroke-width="0.75"/>
<circle cx="459.2" cy="145.2" r="1.85" fill="#2484c9" stroke="#173a57" stroke-width="0.75"/>
<circle cx="462.2" cy="146.6" r="1.85" fill="#2484c9" stroke="#173a57" stroke-width="0.75"/>
<circle cx="468.0" cy="145.8" r="1.85" fill="#2484c9" stroke="#173a57" stroke-width="0.75"/>
<circle cx="475.0" cy="144.4" r="1.85" fill="#2484c9" stroke="#173a57" stroke-width="0.75"/>
<circle cx="477.4" cy="144.0" r="1.85" fill="#2484c9" stroke="#173a57" stroke-width="0.75"/>
<circle cx="479.6" cy="146.6" r="1.85" fill="#2484c9" stroke="#173a57" stroke-width="0.75"/>
<circle cx="469.2" cy="150.2" r="1.85" fill="#2484c9" stroke="#173a57" stroke-width="0.75"/>
<circle cx="484.2" cy="150.2" r="1.85" fill="#2484c9" stroke="#173a57" stroke-width="0.75"/>
<circle cx="490.8" cy="148.8" r="1.85" fill="#2484c9" stroke="#173a57" stroke-width="0.75"/>
<circle cx="496.4" cy="149.2" r="1.85" fill="#2484c9" stroke="#173a57" stroke-width="0.75"/>
<circle cx="496.0" cy="151.6" r="1.85" fill="#2484c9" stroke="#173a57" stroke-width="0.75"/>
<circle cx="480.0" cy="153.0" r="1.85" fill="#2484c9" stroke="#173a57" stroke-width="0.75"/>
<circle cx="456.6" cy="154.8" r="1.85" fill="#2484c9" stroke="#173a57" stroke-width="0.75"/>
<circle cx="457.6" cy="156.8" r="1.85" fill="#2484c9" stroke="#173a57" stroke-width="0.75"/>
<circle cx="464.4" cy="155.4" r="1.85" fill="#2484c9" stroke="#173a57" stroke-width="0.75"/>
<circle cx="468.8" cy="157.2" r="1.85" fill="#2484c9" stroke="#173a57" stroke-width="0.75"/>
<circle cx="495.8" cy="155.0" r="1.85" fill="#2484c9" stroke="#173a57" stroke-width="0.75"/>
<circle cx="497.4" cy="157.6" r="1.85" fill="#2484c9" stroke="#173a57" stroke-width="0.75"/>
<circle cx="488.2" cy="158.4" r="1.85" fill="#2484c9" stroke="#173a57" stroke-width="0.75"/>
<circle cx="497.4" cy="165.6" r="1.85" fill="#2484c9" stroke="#173a57" stroke-width="0.75"/>
<circle cx="480.8" cy="168.4" r="1.85" fill="#2484c9" stroke="#173a57" stroke-width="0.75"/>
<circle cx="484.4" cy="168.4" r="1.85" fill="#2484c9" stroke="#173a57" stroke-width="0.75"/>
<circle cx="493.6" cy="168.8" r="1.85" fill="#2484c9" stroke="#173a57" stroke-width="0.75"/>
<circle cx="497.0" cy="171.6" r="1.85" fill="#2484c9" stroke="#173a57" stroke-width="0.75"/>
<circle cx="445.0" cy="172.8" r="1.85" fill="#2484c9" stroke="#173a57" stroke-width="0.75"/>
<circle cx="454.0" cy="172.8" r="1.85" fill="#2484c9" stroke="#173a57" stroke-width="0.75"/>
<circle cx="463.4" cy="173.2" r="1.85" fill="#2484c9" stroke="#173a57" stroke-width="0.75"/>
<circle cx="486.4" cy="174.4" r="1.85" fill="#2484c9" stroke="#173a57" stroke-width="0.75"/>
<circle cx="492.4" cy="173.8" r="1.85" fill="#2484c9" stroke="#173a57" stroke-width="0.75"/>
<circle cx="473.8" cy="178.8" r="1.85" fill="#2484c9" stroke="#173a57" stroke-width="0.75"/>
<circle cx="482.2" cy="178.4" r="1.85" fill="#2484c9" stroke="#173a57" stroke-width="0.75"/>
<circle cx="480.8" cy="181.4" r="1.85" fill="#2484c9" stroke="#173a57" stroke-width="0.75"/>
<circle cx="487.0" cy="181.0" r="1.85" fill="#2484c9" stroke="#173a57" stroke-width="0.75"/>
<circle cx="490.2" cy="180.2" r="1.85" fill="#2484c9" stroke="#173a57" stroke-width="0.75"/>
<circle cx="459.0" cy="183.2" r="1.85" fill="#2484c9" stroke="#173a57" stroke-width="0.75"/>
<circle cx="484.4" cy="189.6" r="1.85" fill="#2484c9" stroke="#173a57" stroke-width="0.75"/>
<circle cx="463.2" cy="194.0" r="1.85" fill="#2484c9" stroke="#173a57" stroke-width="0.75"/>
<circle cx="467.0" cy="196.0" r="1.85" fill="#2484c9" stroke="#173a57" stroke-width="0.75"/>
<circle cx="482.6" cy="193.6" r="1.85" fill="#2484c9" stroke="#173a57" stroke-width="0.75"/>
<circle cx="486.0" cy="193.6" r="1.85" fill="#2484c9" stroke="#173a57" stroke-width="0.75"/>
<circle cx="484.4" cy="198.2" r="1.85" fill="#2484c9" stroke="#173a57" stroke-width="0.75"/>
<circle cx="490.0" cy="198.6" r="1.85" fill="#2484c9" stroke="#173a57" stroke-width="0.75"/>
<circle cx="445.8" cy="196.6" r="1.85" fill="#2484c9" stroke="#173a57" stroke-width="0.75"/>
<circle cx="447.0" cy="200.2" r="1.85" fill="#2484c9" stroke="#173a57" stroke-width="0.75"/>
<circle cx="446.8" cy="204.0" r="1.85" fill="#2484c9" stroke="#173a57" stroke-width="0.75"/>
<circle cx="456.0" cy="197.2" r="1.85" fill="#2484c9" stroke="#173a57" stroke-width="0.75"/>
<circle cx="459.2" cy="198.4" r="1.85" fill="#2484c9" stroke="#173a57" stroke-width="0.75"/>
<circle cx="458.6" cy="202.4" r="1.85" fill="#2484c9" stroke="#173a57" stroke-width="0.75"/>
<circle cx="463.6" cy="203.6" r="1.85" fill="#2484c9" stroke="#173a57" stroke-width="0.75"/>
<circle cx="461.4" cy="206.0" r="1.85" fill="#2484c9" stroke="#173a57" stroke-width="0.75"/>
<circle cx="466.8" cy="204.4" r="1.85" fill="#2484c9" stroke="#173a57" stroke-width="0.75"/>
<circle cx="474.0" cy="205.8" r="1.85" fill="#2484c9" stroke="#173a57" stroke-width="0.75"/>
<circle cx="481.0" cy="204.2" r="1.85" fill="#2484c9" stroke="#173a57" stroke-width="0.75"/>
<circle cx="483.4" cy="203.0" r="1.85" fill="#2484c9" stroke="#173a57" stroke-width="0.75"/>
<circle cx="485.6" cy="203.0" r="1.85" fill="#2484c9" stroke="#173a57" stroke-width="0.75"/>
<circle cx="497.4" cy="206.0" r="1.85" fill="#2484c9" stroke="#173a57" stroke-width="0.75"/>
<circle cx="451.2" cy="208.6" r="1.85" fill="#2484c9" stroke="#173a57" stroke-width="0.75"/>
<circle cx="448.0" cy="214.6" r="1.85" fill="#2484c9" stroke="#173a57" stroke-width="0.75"/>
<circle cx="450.0" cy="215.6" r="1.85" fill="#2484c9" stroke="#173a57" stroke-width="0.75"/>
<circle cx="453.2" cy="214.2" r="1.85" fill="#2484c9" stroke="#173a57" stroke-width="0.75"/>
<circle cx="456.8" cy="216.6" r="1.85" fill="#2484c9" stroke="#173a57" stroke-width="0.75"/>
<circle cx="459.8" cy="214.8" r="1.85" fill="#2484c9" stroke="#173a57" stroke-width="0.75"/>
<circle cx="445.0" cy="218.0" r="1.85" fill="#2484c9" stroke="#173a57" stroke-width="0.75"/>
<circle cx="444.8" cy="222.8" r="1.85" fill="#2484c9" stroke="#173a57" stroke-width="0.75"/>
<circle cx="447.0" cy="221.0" r="1.85" fill="#2484c9" stroke="#173a57" stroke-width="0.75"/>
<circle cx="450.0" cy="221.0" r="1.85" fill="#2484c9" stroke="#173a57" stroke-width="0.75"/>
<circle cx="453.0" cy="221.0" r="1.85" fill="#2484c9" stroke="#173a57" stroke-width="0.75"/>
<circle cx="456.0" cy="222.0" r="1.85" fill="#2484c9" stroke="#173a57" stroke-width="0.75"/>
<circle cx="458.0" cy="223.0" r="1.85" fill="#2484c9" stroke="#173a57" stroke-width="0.75"/>
<circle cx="460.8" cy="222.0" r="1.85" fill="#2484c9" stroke="#173a57" stroke-width="0.75"/>
<circle cx="463.0" cy="218.4" r="1.85" fill="#2484c9" stroke="#173a57" stroke-width="0.75"/>
<circle cx="465.0" cy="218.0" r="1.85" fill="#2484c9" stroke="#173a57" stroke-width="0.75"/>
<circle cx="466.0" cy="216.0" r="1.85" fill="#2484c9" stroke="#173a57" stroke-width="0.75"/>
<circle cx="469.0" cy="215.0" r="1.85" fill="#2484c9" stroke="#173a57" stroke-width="0.75"/>
<circle cx="469.0" cy="219.0" r="1.85" fill="#2484c9" stroke="#173a57" stroke-width="0.75"/>
<circle cx="473.0" cy="214.0" r="1.85" fill="#2484c9" stroke="#173a57" stroke-width="0.75"/>
<circle cx="475.8" cy="215.0" r="1.85" fill="#2484c9" stroke="#173a57" stroke-width="0.75"/>
<circle cx="474.8" cy="220.6" r="1.85" fill="#2484c9" stroke="#173a57" stroke-width="0.75"/>
<circle cx="479.0" cy="218.0" r="1.85" fill="#2484c9" stroke="#173a57" stroke-width="0.75"/>
<circle cx="481.0" cy="215.0" r="1.85" fill="#2484c9" stroke="#173a57" stroke-width="0.75"/>
<circle cx="483.0" cy="215.0" r="1.85" fill="#2484c9" stroke="#173a57" stroke-width="0.75"/>
<circle cx="481.0" cy="221.0" r="1.85" fill="#2484c9" stroke="#173a57" stroke-width="0.75"/>
<circle cx="485.0" cy="222.2" r="1.85" fill="#2484c9" stroke="#173a57" stroke-width="0.75"/>
<circle cx="487.8" cy="217.0" r="1.85" fill="#2484c9" stroke="#173a57" stroke-width="0.75"/>
<circle cx="490.6" cy="217.6" r="1.85" fill="#2484c9" stroke="#173a57" stroke-width="0.75"/>
<circle cx="492.6" cy="214.0" r="1.85" fill="#2484c9" stroke="#173a57" stroke-width="0.75"/>
<circle cx="494.6" cy="217.0" r="1.85" fill="#2484c9" stroke="#173a57" stroke-width="0.75"/>
<circle cx="612.4" cy="221.9" r="1.85" fill="#e4741b" stroke="#5a3a20" stroke-width="0.75"/>
<circle cx="628.3" cy="214.2" r="1.85" fill="#e4741b" stroke="#5a3a20" stroke-width="0.75"/>
<circle cx="617.4" cy="216.9" r="1.85" fill="#e4741b" stroke="#5a3a20" stroke-width="0.75"/>
<circle cx="580.2" cy="50.2" r="1.85" fill="#e4741b" stroke="#5a3a20" stroke-width="0.75"/>
<circle cx="625.6" cy="53.0" r="1.85" fill="#e4741b" stroke="#5a3a20" stroke-width="0.75"/>
<circle cx="587.0" cy="79.4" r="1.85" fill="#e4741b" stroke="#5a3a20" stroke-width="0.75"/>
<circle cx="582.0" cy="85.4" r="1.85" fill="#e4741b" stroke="#5a3a20" stroke-width="0.75"/>
<circle cx="609.0" cy="77.0" r="1.85" fill="#e4741b" stroke="#5a3a20" stroke-width="0.75"/>
<circle cx="623.4" cy="99.6" r="1.85" fill="#e4741b" stroke="#5a3a20" stroke-width="0.75"/>
<circle cx="630.0" cy="106.6" r="1.85" fill="#e4741b" stroke="#5a3a20" stroke-width="0.75"/>
<circle cx="588.6" cy="109.6" r="1.85" fill="#e4741b" stroke="#5a3a20" stroke-width="0.75"/>
<circle cx="600.2" cy="110.2" r="1.85" fill="#e4741b" stroke="#5a3a20" stroke-width="0.75"/>
<circle cx="609.4" cy="111.0" r="1.85" fill="#e4741b" stroke="#5a3a20" stroke-width="0.75"/>
<circle cx="596.8" cy="121.8" r="1.85" fill="#e4741b" stroke="#5a3a20" stroke-width="0.75"/>
<circle cx="581.2" cy="124.2" r="1.85" fill="#e4741b" stroke="#5a3a20" stroke-width="0.75"/>
<circle cx="588.0" cy="127.2" r="1.85" fill="#e4741b" stroke="#5a3a20" stroke-width="0.75"/>
<circle cx="620.6" cy="147.4" r="1.85" fill="#e4741b" stroke="#5a3a20" stroke-width="0.75"/>
<circle cx="625.0" cy="150.2" r="1.85" fill="#e4741b" stroke="#5a3a20" stroke-width="0.75"/>
<circle cx="607.6" cy="153.0" r="1.85" fill="#e4741b" stroke="#5a3a20" stroke-width="0.75"/>
<circle cx="615.4" cy="154.8" r="1.85" fill="#e4741b" stroke="#5a3a20" stroke-width="0.75"/>
<circle cx="604.2" cy="159.2" r="1.85" fill="#e4741b" stroke="#5a3a20" stroke-width="0.75"/>
<circle cx="591.0" cy="176.2" r="1.85" fill="#e4741b" stroke="#5a3a20" stroke-width="0.75"/>
<circle cx="590.6" cy="177.6" r="1.85" fill="#e4741b" stroke="#5a3a20" stroke-width="0.75"/>
<circle cx="596.0" cy="174.6" r="1.85" fill="#e4741b" stroke="#5a3a20" stroke-width="0.75"/>
<circle cx="620.2" cy="174.0" r="1.85" fill="#e4741b" stroke="#5a3a20" stroke-width="0.75"/>
<circle cx="599.0" cy="180.4" r="1.85" fill="#e4741b" stroke="#5a3a20" stroke-width="0.75"/>
<circle cx="614.6" cy="181.8" r="1.85" fill="#e4741b" stroke="#5a3a20" stroke-width="0.75"/>
<circle cx="627.8" cy="179.0" r="1.85" fill="#e4741b" stroke="#5a3a20" stroke-width="0.75"/>
<circle cx="628.0" cy="183.8" r="1.85" fill="#e4741b" stroke="#5a3a20" stroke-width="0.75"/>
<circle cx="595.2" cy="191.6" r="1.85" fill="#e4741b" stroke="#5a3a20" stroke-width="0.75"/>
<circle cx="628.0" cy="191.0" r="1.85" fill="#e4741b" stroke="#5a3a20" stroke-width="0.75"/>
<circle cx="629.8" cy="190.2" r="1.85" fill="#e4741b" stroke="#5a3a20" stroke-width="0.75"/>
<circle cx="582.6" cy="196.6" r="1.85" fill="#e4741b" stroke="#5a3a20" stroke-width="0.75"/>
<circle cx="584.8" cy="199.0" r="1.85" fill="#e4741b" stroke="#5a3a20" stroke-width="0.75"/>
<circle cx="581.6" cy="200.8" r="1.85" fill="#e4741b" stroke="#5a3a20" stroke-width="0.75"/>
<circle cx="605.0" cy="197.8" r="1.85" fill="#e4741b" stroke="#5a3a20" stroke-width="0.75"/>
<circle cx="608.0" cy="205.6" r="1.85" fill="#e4741b" stroke="#5a3a20" stroke-width="0.75"/>
<circle cx="625.4" cy="196.2" r="1.85" fill="#e4741b" stroke="#5a3a20" stroke-width="0.75"/>
<circle cx="628.8" cy="197.0" r="1.85" fill="#e4741b" stroke="#5a3a20" stroke-width="0.75"/>
<circle cx="622.0" cy="198.8" r="1.85" fill="#e4741b" stroke="#5a3a20" stroke-width="0.75"/>
<circle cx="617.8" cy="201.6" r="1.85" fill="#e4741b" stroke="#5a3a20" stroke-width="0.75"/>
<circle cx="589.8" cy="203.8" r="1.85" fill="#e4741b" stroke="#5a3a20" stroke-width="0.75"/>
<circle cx="592.2" cy="204.8" r="1.85" fill="#e4741b" stroke="#5a3a20" stroke-width="0.75"/>
<circle cx="592.8" cy="208.0" r="1.85" fill="#e4741b" stroke="#5a3a20" stroke-width="0.75"/>
<circle cx="595.4" cy="208.6" r="1.85" fill="#e4741b" stroke="#5a3a20" stroke-width="0.75"/>
<circle cx="580.2" cy="208.6" r="1.85" fill="#e4741b" stroke="#5a3a20" stroke-width="0.75"/>
<circle cx="616.0" cy="208.0" r="1.85" fill="#e4741b" stroke="#5a3a20" stroke-width="0.75"/>
<circle cx="627.6" cy="207.4" r="1.85" fill="#e4741b" stroke="#5a3a20" stroke-width="0.75"/>
<circle cx="578.6" cy="215.6" r="1.85" fill="#e4741b" stroke="#5a3a20" stroke-width="0.75"/>
<circle cx="584.0" cy="215.6" r="1.85" fill="#e4741b" stroke="#5a3a20" stroke-width="0.75"/>
<circle cx="585.6" cy="214.0" r="1.85" fill="#e4741b" stroke="#5a3a20" stroke-width="0.75"/>
<circle cx="590.6" cy="214.0" r="1.85" fill="#e4741b" stroke="#5a3a20" stroke-width="0.75"/>
<circle cx="591.0" cy="216.0" r="1.85" fill="#e4741b" stroke="#5a3a20" stroke-width="0.75"/>
<circle cx="593.6" cy="217.0" r="1.85" fill="#e4741b" stroke="#5a3a20" stroke-width="0.75"/>
<circle cx="596.4" cy="214.0" r="1.85" fill="#e4741b" stroke="#5a3a20" stroke-width="0.75"/>
<circle cx="599.0" cy="215.2" r="1.85" fill="#e4741b" stroke="#5a3a20" stroke-width="0.75"/>
<circle cx="601.6" cy="218.6" r="1.85" fill="#e4741b" stroke="#5a3a20" stroke-width="0.75"/>
<circle cx="604.4" cy="214.0" r="1.85" fill="#e4741b" stroke="#5a3a20" stroke-width="0.75"/>
<circle cx="604.4" cy="217.6" r="1.85" fill="#e4741b" stroke="#5a3a20" stroke-width="0.75"/>
<circle cx="607.8" cy="215.0" r="1.85" fill="#e4741b" stroke="#5a3a20" stroke-width="0.75"/>
<circle cx="611.4" cy="215.6" r="1.85" fill="#e4741b" stroke="#5a3a20" stroke-width="0.75"/>
<circle cx="610.2" cy="218.0" r="1.85" fill="#e4741b" stroke="#5a3a20" stroke-width="0.75"/>
<circle cx="612.0" cy="220.4" r="1.85" fill="#e4741b" stroke="#5a3a20" stroke-width="0.75"/>
<circle cx="615.0" cy="219.6" r="1.85" fill="#e4741b" stroke="#5a3a20" stroke-width="0.75"/>
<circle cx="615.0" cy="222.0" r="1.85" fill="#e4741b" stroke="#5a3a20" stroke-width="0.75"/>
<circle cx="618.8" cy="214.0" r="1.85" fill="#e4741b" stroke="#5a3a20" stroke-width="0.75"/>
<circle cx="620.6" cy="216.0" r="1.85" fill="#e4741b" stroke="#5a3a20" stroke-width="0.75"/>
<circle cx="618.0" cy="218.0" r="1.85" fill="#e4741b" stroke="#5a3a20" stroke-width="0.75"/>
<circle cx="620.0" cy="220.0" r="1.85" fill="#e4741b" stroke="#5a3a20" stroke-width="0.75"/>
<circle cx="623.0" cy="218.0" r="1.85" fill="#e4741b" stroke="#5a3a20" stroke-width="0.75"/>
<circle cx="626.0" cy="217.0" r="1.85" fill="#e4741b" stroke="#5a3a20" stroke-width="0.75"/>
<circle cx="628.6" cy="216.0" r="1.85" fill="#e4741b" stroke="#5a3a20" stroke-width="0.75"/>
<circle cx="631.0" cy="214.0" r="1.85" fill="#e4741b" stroke="#5a3a20" stroke-width="0.75"/>
<circle cx="629.0" cy="219.0" r="1.85" fill="#e4741b" stroke="#5a3a20" stroke-width="0.75"/>
<circle cx="630.8" cy="220.0" r="1.85" fill="#e4741b" stroke="#5a3a20" stroke-width="0.75"/>
<circle cx="631.4" cy="223.2" r="1.85" fill="#e4741b" stroke="#5a3a20" stroke-width="0.75"/>
<circle cx="628.0" cy="223.0" r="1.85" fill="#e4741b" stroke="#5a3a20" stroke-width="0.75"/>
<circle cx="625.0" cy="222.0" r="1.85" fill="#e4741b" stroke="#5a3a20" stroke-width="0.75"/>
<circle cx="621.0" cy="222.0" r="1.85" fill="#e4741b" stroke="#5a3a20" stroke-width="0.75"/>
<circle cx="579.6" cy="222.6" r="1.85" fill="#e4741b" stroke="#5a3a20" stroke-width="0.75"/>
<circle cx="584.0" cy="221.0" r="1.85" fill="#e4741b" stroke="#5a3a20" stroke-width="0.75"/>
<circle cx="586.0" cy="223.0" r="1.85" fill="#e4741b" stroke="#5a3a20" stroke-width="0.75"/>
<circle cx="588.0" cy="220.0" r="1.85" fill="#e4741b" stroke="#5a3a20" stroke-width="0.75"/>
<circle cx="591.4" cy="222.0" r="1.85" fill="#e4741b" stroke="#5a3a20" stroke-width="0.75"/>
<circle cx="594.6" cy="220.4" r="1.85" fill="#e4741b" stroke="#5a3a20" stroke-width="0.75"/>
<circle cx="596.0" cy="220.0" r="1.85" fill="#e4741b" stroke="#5a3a20" stroke-width="0.75"/>
<circle cx="598.0" cy="221.0" r="1.85" fill="#e4741b" stroke="#5a3a20" stroke-width="0.75"/>
<circle cx="601.0" cy="220.0" r="1.85" fill="#e4741b" stroke="#5a3a20" stroke-width="0.75"/>
<circle cx="471.2" cy="199.2" r="2.0" fill="#ffff00" stroke="#000" stroke-width="1.0"/>
<circle cx="604.8" cy="223.4" r="2.0" fill="#ffff00" stroke="#000" stroke-width="1.0"/>
<line x1="390.9" x2="390.9" y1="20" y2="234.0" stroke="#a2a2a2" stroke-width="2"/>
<line x1="390.2" x2="685" y1="233.3" y2="233.3" stroke="#6a6a6a" stroke-width="1.5"/>
<text x="386.1" y="227.65" text-anchor="end" class="t">0</text>
<text x="386.1" y="203.43" text-anchor="end" class="t">1</text>
<text x="386.1" y="179.21" text-anchor="end" class="t">2</text>
<text x="386.1" y="154.99" text-anchor="end" class="t">3</text>
<text x="386.1" y="130.77" text-anchor="end" class="t">4</text>
<text x="386.1" y="106.55" text-anchor="end" class="t">5</text>
<text x="386.1" y="82.33" text-anchor="end" class="t">6</text>
<text x="386.1" y="58.11" text-anchor="end" class="t">7</text>
<text x="386.1" y="33.89" text-anchor="end" class="t">8</text>
<text x="350.3" y="11.1" class="lab">b</text>
<text x="542.2" y="15.9" text-anchor="middle" class="tb">12 Weeks Post-operation</text>
<text x="518.6" y="45.8" class="p">P &lt; 0.001</text>
<text x="469.7" y="246.0" text-anchor="middle" class="t">Routine</text>
<text x="471.2" y="259.2" text-anchor="middle" class="t">management</text>
<text x="603.8" y="246.0" text-anchor="middle" class="t">Based on ePRO</text>
<text x="605.0" y="259.2" text-anchor="middle" class="t">symptom management</text>
<text transform="translate(360.1,127.4) rotate(-90)" text-anchor="middle" class="tb">Number of target symptom</text>
<text transform="translate(373.1,127.4) rotate(-90)" text-anchor="middle" class="tb">threshold event</text>
<line x1="40.4" x2="334" y1="477.07" y2="477.07" stroke="#f7f7f7" stroke-width="1"/>
<line x1="40.4" x2="334" y1="428.62" y2="428.62" stroke="#f7f7f7" stroke-width="1"/>
<line x1="40.4" x2="334" y1="380.18" y2="380.18" stroke="#f7f7f7" stroke-width="1"/>
<line x1="40.4" x2="334" y1="331.73" y2="331.73" stroke="#f7f7f7" stroke-width="1"/>
<line x1="40.4" x2="334" y1="501.30" y2="501.30" stroke="#d4e9f2" stroke-width="1"/>
<line x1="40.4" x2="334" y1="452.85" y2="452.85" stroke="#d4e9f2" stroke-width="1"/>
<line x1="40.4" x2="334" y1="404.40" y2="404.40" stroke="#d4e9f2" stroke-width="1"/>
<line x1="40.4" x2="334" y1="355.95" y2="355.95" stroke="#d4e9f2" stroke-width="1"/>
<line x1="40.4" x2="334" y1="307.50" y2="307.50" stroke="#d4e9f2" stroke-width="1"/>
<line x1="120.0" x2="120.0" y1="297.8" y2="510.6" stroke="#d4e9f2" stroke-width="1"/>
<line x1="253.6" x2="253.6" y1="297.8" y2="510.6" stroke="#d4e9f2" stroke-width="1"/>
<path d="M133.90,501.20 L132.80,496.00 L130.50,490.00 L127.60,485.00 L125.00,480.00 L123.60,475.00 L122.40,470.00 L122.10,460.00 L122.00,440.00 L122.05,430.00 L122.50,425.00 L123.30,420.00 L124.80,412.00 L126.60,404.20 L113.40,404.20 L115.20,412.00 L116.70,420.00 L117.50,425.00 L117.95,430.00 L118.00,440.00 L117.90,460.00 L117.60,470.00 L116.40,475.00 L115.00,480.00 L112.40,485.00 L109.50,490.00 L107.20,496.00 L106.10,501.20Z" fill="#5ea6d8" fill-opacity="0.9" stroke="#505356" stroke-width="0.55" stroke-linejoin="round"/>
<path d="M280.60,501.20 L277.10,498.00 L273.60,495.00 L266.60,490.00 L259.60,485.00 L255.80,481.00 L254.80,476.00 L254.60,473.00 L254.90,469.00 L255.60,465.00 L256.50,459.00 L256.85,453.00 L256.40,447.00 L255.60,442.00 L254.70,436.00 L253.92,430.00 L253.92,426.00 L254.60,420.00 L255.60,412.00 L256.75,404.20 L250.45,404.20 L251.60,412.00 L252.60,420.00 L253.28,426.00 L253.28,430.00 L252.50,436.00 L251.60,442.00 L250.80,447.00 L250.35,453.00 L250.70,459.00 L251.60,465.00 L252.30,469.00 L252.60,473.00 L252.40,476.00 L251.40,481.00 L247.60,485.00 L240.60,490.00 L233.60,495.00 L230.10,498.00 L226.60,501.20Z" fill="#e89b60" fill-opacity="0.9" stroke="#505356" stroke-width="0.55" stroke-linejoin="round"/>
<circle cx="100.6" cy="385.4" r="1.85" fill="#2484c9" stroke="#173a57" stroke-width="0.75"/>
<circle cx="104.0" cy="385.4" r="1.85" fill="#2484c9" stroke="#173a57" stroke-width="0.75"/>
<circle cx="105.0" cy="388.0" r="1.85" fill="#2484c9" stroke="#173a57" stroke-width="0.75"/>
<circle cx="95.0" cy="390.4" r="1.85" fill="#2484c9" stroke="#173a57" stroke-width="0.75"/>
<circle cx="115.0" cy="386.4" r="1.85" fill="#2484c9" stroke="#173a57" stroke-width="0.75"/>
<circle cx="113.2" cy="390.0" r="1.85" fill="#2484c9" stroke="#173a57" stroke-width="0.75"/>
<circle cx="118.8" cy="389.8" r="1.85" fill="#2484c9" stroke="#173a57" stroke-width="0.75"/>
<circle cx="133.8" cy="390.0" r="1.85" fill="#2484c9" stroke="#173a57" stroke-width="0.75"/>
<circle cx="136.4" cy="388.2" r="1.85" fill="#2484c9" stroke="#173a57" stroke-width="0.75"/>
<circle cx="139.8" cy="389.8" r="1.85" fill="#2484c9" stroke="#173a57" stroke-width="0.75"/>
<circle cx="143.8" cy="388.8" r="1.85" fill="#2484c9" stroke="#173a57" stroke-width="0.75"/>
<circle cx="126.8" cy="394.2" r="1.85" fill="#2484c9" stroke="#173a57" stroke-width="0.75"/>
<circle cx="103.8" cy="395.8" r="1.85" fill="#2484c9" stroke="#173a57" stroke-width="0.75"/>
<circle cx="105.6" cy="397.8" r="1.85" fill="#2484c9" stroke="#173a57" stroke-width="0.75"/>
<circle cx="108.8" cy="396.4" r="1.85" fill="#2484c9" stroke="#173a57" stroke-width="0.75"/>
<circle cx="116.2" cy="398.0" r="1.85" fill="#2484c9" stroke="#173a57" stroke-width="0.75"/>
<circle cx="121.4" cy="401.2" r="1.85" fill="#2484c9" stroke="#173a57" stroke-width="0.75"/>
<circle cx="140.6" cy="398.6" r="1.85" fill="#2484c9" stroke="#173a57" stroke-width="0.75"/>
<circle cx="140.0" cy="401.4" r="1.85" fill="#2484c9" stroke="#173a57" stroke-width="0.75"/>
<circle cx="146.0" cy="402.0" r="1.85" fill="#2484c9" stroke="#173a57" stroke-width="0.75"/>
<circle cx="94.4" cy="403.6" r="1.85" fill="#2484c9" stroke="#173a57" stroke-width="0.75"/>
<circle cx="98.0" cy="405.8" r="1.85" fill="#2484c9" stroke="#173a57" stroke-width="0.75"/>
<circle cx="94.0" cy="408.2" r="1.85" fill="#2484c9" stroke="#173a57" stroke-width="0.75"/>
<circle cx="102.6" cy="408.0" r="1.85" fill="#2484c9" stroke="#173a57" stroke-width="0.75"/>
<circle cx="111.0" cy="403.6" r="1.85" fill="#2484c9" stroke="#173a57" stroke-width="0.75"/>
<circle cx="110.2" cy="408.4" r="1.85" fill="#2484c9" stroke="#173a57" stroke-width="0.75"/>
<circle cx="113.6" cy="409.6" r="1.85" fill="#2484c9" stroke="#173a57" stroke-width="0.75"/>
<circle cx="116.6" cy="407.0" r="1.85" fill="#2484c9" stroke="#173a57" stroke-width="0.75"/>
<circle cx="121.2" cy="405.6" r="1.85" fill="#2484c9" stroke="#173a57" stroke-width="0.75"/>
<circle cx="119.6" cy="410.0" r="1.85" fill="#2484c9" stroke="#173a57" stroke-width="0.75"/>
<circle cx="117.0" cy="412.0" r="1.85" fill="#2484c9" stroke="#173a57" stroke-width="0.75"/>
<circle cx="114.2" cy="413.0" r="1.85" fill="#2484c9" stroke="#173a57" stroke-width="0.75"/>
<circle cx="130.0" cy="403.6" r="1.85" fill="#2484c9" stroke="#173a57" stroke-width="0.75"/>
<circle cx="131.2" cy="411.6" r="1.85" fill="#2484c9" stroke="#173a57" stroke-width="0.75"/>
<circle cx="99.0" cy="413.0" r="1.85" fill="#2484c9" stroke="#173a57" stroke-width="0.75"/>
<circle cx="101.2" cy="415.8" r="1.85" fill="#2484c9" stroke="#173a57" stroke-width="0.75"/>
<circle cx="98.6" cy="419.2" r="1.85" fill="#2484c9" stroke="#173a57" stroke-width="0.75"/>
<circle cx="99.0" cy="421.4" r="1.85" fill="#2484c9" stroke="#173a57" stroke-width="0.75"/>
<circle cx="96.8" cy="422.4" r="1.85" fill="#2484c9" stroke="#173a57" stroke-width="0.75"/>
<circle cx="93.0" cy="422.8" r="1.85" fill="#2484c9" stroke="#173a57" stroke-width="0.75"/>
<circle cx="112.6" cy="421.0" r="1.85" fill="#2484c9" stroke="#173a57" stroke-width="0.75"/>
<circle cx="128.8" cy="418.4" r="1.85" fill="#2484c9" stroke="#173a57" stroke-width="0.75"/>
<circle cx="135.0" cy="417.6" r="1.85" fill="#2484c9" stroke="#173a57" stroke-width="0.75"/>
<circle cx="140.6" cy="417.6" r="1.85" fill="#2484c9" stroke="#173a57" stroke-width="0.75"/>
<circle cx="142.2" cy="418.6" r="1.85" fill="#2484c9" stroke="#173a57" stroke-width="0.75"/>
<circle cx="146.0" cy="421.0" r="1.85" fill="#2484c9" stroke="#173a57" stroke-width="0.75"/>
<circle cx="101.6" cy="436.6" r="1.85" fill="#2484c9" stroke="#173a57" stroke-width="0.75"/>
<circle cx="133.0" cy="435.2" r="1.85" fill="#2484c9" stroke="#173a57" stroke-width="0.75"/>
<circle cx="140.2" cy="436.0" r="1.85" fill="#2484c9" stroke="#173a57" stroke-width="0.75"/>
<circle cx="95.0" cy="443.0" r="1.85" fill="#2484c9" stroke="#173a57" stroke-width="0.75"/>
<circle cx="110.2" cy="444.0" r="1.85" fill="#2484c9" stroke="#173a57" stroke-width="0.75"/>
<circle cx="118.6" cy="442.4" r="1.85" fill="#2484c9" stroke="#173a57" stroke-width="0.75"/>
<circle cx="136.0" cy="441.0" r="1.85" fill="#2484c9" stroke="#173a57" stroke-width="0.75"/>
<circle cx="121.8" cy="448.6" r="1.85" fill="#2484c9" stroke="#173a57" stroke-width="0.75"/>
<circle cx="102.0" cy="450.0" r="1.85" fill="#2484c9" stroke="#173a57" stroke-width="0.75"/>
<circle cx="132.0" cy="448.8" r="1.85" fill="#2484c9" stroke="#173a57" stroke-width="0.75"/>
<circle cx="144.6" cy="449.8" r="1.85" fill="#2484c9" stroke="#173a57" stroke-width="0.75"/>
<circle cx="94.0" cy="455.6" r="1.85" fill="#2484c9" stroke="#173a57" stroke-width="0.75"/>
<circle cx="101.4" cy="459.0" r="1.85" fill="#2484c9" stroke="#173a57" stroke-width="0.75"/>
<circle cx="114.2" cy="458.0" r="1.85" fill="#2484c9" stroke="#173a57" stroke-width="0.75"/>
<circle cx="139.0" cy="458.6" r="1.85" fill="#2484c9" stroke="#173a57" stroke-width="0.75"/>
<circle cx="142.8" cy="463.4" r="1.85" fill="#2484c9" stroke="#173a57" stroke-width="0.75"/>
<circle cx="144.2" cy="466.2" r="1.85" fill="#2484c9" stroke="#173a57" stroke-width="0.75"/>
<circle cx="129.0" cy="467.8" r="1.85" fill="#2484c9" stroke="#173a57" stroke-width="0.75"/>
<circle cx="99.8" cy="484.0" r="1.85" fill="#2484c9" stroke="#173a57" stroke-width="0.75"/>
<circle cx="103.6" cy="484.6" r="1.85" fill="#2484c9" stroke="#173a57" stroke-width="0.75"/>
<circle cx="104.6" cy="486.8" r="1.85" fill="#2484c9" stroke="#173a57" stroke-width="0.75"/>
<circle cx="107.4" cy="485.2" r="1.85" fill="#2484c9" stroke="#173a57" stroke-width="0.75"/>
<circle cx="109.6" cy="483.4" r="1.85" fill="#2484c9" stroke="#173a57" stroke-width="0.75"/>
<circle cx="110.0" cy="485.6" r="1.85" fill="#2484c9" stroke="#173a57" stroke-width="0.75"/>
<circle cx="109.0" cy="488.2" r="1.85" fill="#2484c9" stroke="#173a57" stroke-width="0.75"/>
<circle cx="111.0" cy="490.0" r="1.85" fill="#2484c9" stroke="#173a57" stroke-width="0.75"/>
<circle cx="111.4" cy="491.4" r="1.85" fill="#2484c9" stroke="#173a57" stroke-width="0.75"/>
<circle cx="94.0" cy="488.6" r="1.85" fill="#2484c9" stroke="#173a57" stroke-width="0.75"/>
<circle cx="96.0" cy="491.4" r="1.85" fill="#2484c9" stroke="#173a57" stroke-width="0.75"/>
<circle cx="99.0" cy="490.6" r="1.85" fill="#2484c9" stroke="#173a57" stroke-width="0.75"/>
<circle cx="96.8" cy="493.8" r="1.85" fill="#2484c9" stroke="#173a57" stroke-width="0.75"/>
<circle cx="98.4" cy="495.8" r="1.85" fill="#2484c9" stroke="#173a57" stroke-width="0.75"/>
<circle cx="101.0" cy="495.2" r="1.85" fill="#2484c9" stroke="#173a57" stroke-width="0.75"/>
<circle cx="103.4" cy="495.8" r="1.85" fill="#2484c9" stroke="#173a57" stroke-width="0.75"/>
<circle cx="100.0" cy="498.6" r="1.85" fill="#2484c9" stroke="#173a57" stroke-width="0.75"/>
<circle cx="102.0" cy="500.0" r="1.85" fill="#2484c9" stroke="#173a57" stroke-width="0.75"/>
<circle cx="105.0" cy="498.6" r="1.85" fill="#2484c9" stroke="#173a57" stroke-width="0.75"/>
<circle cx="115.6" cy="488.0" r="1.85" fill="#2484c9" stroke="#173a57" stroke-width="0.75"/>
<circle cx="118.0" cy="485.0" r="1.85" fill="#2484c9" stroke="#173a57" stroke-width="0.75"/>
<circle cx="119.0" cy="482.4" r="1.85" fill="#2484c9" stroke="#173a57" stroke-width="0.75"/>
<circle cx="121.0" cy="483.0" r="1.85" fill="#2484c9" stroke="#173a57" stroke-width="0.75"/>
<circle cx="123.0" cy="483.6" r="1.85" fill="#2484c9" stroke="#173a57" stroke-width="0.75"/>
<circle cx="124.0" cy="486.0" r="1.85" fill="#2484c9" stroke="#173a57" stroke-width="0.75"/>
<circle cx="126.0" cy="483.0" r="1.85" fill="#2484c9" stroke="#173a57" stroke-width="0.75"/>
<circle cx="126.0" cy="485.0" r="1.85" fill="#2484c9" stroke="#173a57" stroke-width="0.75"/>
<circle cx="127.4" cy="490.6" r="1.85" fill="#2484c9" stroke="#173a57" stroke-width="0.75"/>
<circle cx="123.0" cy="494.0" r="1.85" fill="#2484c9" stroke="#173a57" stroke-width="0.75"/>
<circle cx="122.6" cy="495.8" r="1.85" fill="#2484c9" stroke="#173a57" stroke-width="0.75"/>
<circle cx="125.0" cy="497.0" r="1.85" fill="#2484c9" stroke="#173a57" stroke-width="0.75"/>
<circle cx="124.0" cy="499.6" r="1.85" fill="#2484c9" stroke="#173a57" stroke-width="0.75"/>
<circle cx="113.8" cy="499.4" r="1.85" fill="#2484c9" stroke="#173a57" stroke-width="0.75"/>
<circle cx="115.8" cy="501.0" r="1.85" fill="#2484c9" stroke="#173a57" stroke-width="0.75"/>
<circle cx="118.0" cy="499.0" r="1.85" fill="#2484c9" stroke="#173a57" stroke-width="0.75"/>
<circle cx="130.8" cy="483.6" r="1.85" fill="#2484c9" stroke="#173a57" stroke-width="0.75"/>
<circle cx="133.2" cy="486.0" r="1.85" fill="#2484c9" stroke="#173a57" stroke-width="0.75"/>
<circle cx="136.0" cy="484.0" r="1.85" fill="#2484c9" stroke="#173a57" stroke-width="0.75"/>
<circle cx="138.8" cy="483.8" r="1.85" fill="#2484c9" stroke="#173a57" stroke-width="0.75"/>
<circle cx="140.0" cy="488.6" r="1.85" fill="#2484c9" stroke="#173a57" stroke-width="0.75"/>
<circle cx="145.4" cy="484.6" r="1.85" fill="#2484c9" stroke="#173a57" stroke-width="0.75"/>
<circle cx="146.0" cy="486.2" r="1.85" fill="#2484c9" stroke="#173a57" stroke-width="0.75"/>
<circle cx="144.0" cy="491.4" r="1.85" fill="#2484c9" stroke="#173a57" stroke-width="0.75"/>
<circle cx="146.0" cy="494.0" r="1.85" fill="#2484c9" stroke="#173a57" stroke-width="0.75"/>
<circle cx="143.0" cy="496.0" r="1.85" fill="#2484c9" stroke="#173a57" stroke-width="0.75"/>
<circle cx="142.8" cy="497.4" r="1.85" fill="#2484c9" stroke="#173a57" stroke-width="0.75"/>
<circle cx="136.0" cy="500.2" r="1.85" fill="#2484c9" stroke="#173a57" stroke-width="0.75"/>
<circle cx="227.2" cy="391.6" r="1.85" fill="#e4741b" stroke="#5a3a20" stroke-width="0.75"/>
<circle cx="256.2" cy="389.0" r="1.85" fill="#e4741b" stroke="#5a3a20" stroke-width="0.75"/>
<circle cx="266.4" cy="390.0" r="1.85" fill="#e4741b" stroke="#5a3a20" stroke-width="0.75"/>
<circle cx="279.4" cy="393.4" r="1.85" fill="#e4741b" stroke="#5a3a20" stroke-width="0.75"/>
<circle cx="245.8" cy="395.6" r="1.85" fill="#e4741b" stroke="#5a3a20" stroke-width="0.75"/>
<circle cx="259.8" cy="399.4" r="1.85" fill="#e4741b" stroke="#5a3a20" stroke-width="0.75"/>
<circle cx="258.4" cy="403.6" r="1.85" fill="#e4741b" stroke="#5a3a20" stroke-width="0.75"/>
<circle cx="234.8" cy="406.6" r="1.85" fill="#e4741b" stroke="#5a3a20" stroke-width="0.75"/>
<circle cx="251.0" cy="411.6" r="1.85" fill="#e4741b" stroke="#5a3a20" stroke-width="0.75"/>
<circle cx="262.2" cy="414.0" r="1.85" fill="#e4741b" stroke="#5a3a20" stroke-width="0.75"/>
<circle cx="269.8" cy="412.6" r="1.85" fill="#e4741b" stroke="#5a3a20" stroke-width="0.75"/>
<circle cx="267.2" cy="415.8" r="1.85" fill="#e4741b" stroke="#5a3a20" stroke-width="0.75"/>
<circle cx="267.0" cy="417.8" r="1.85" fill="#e4741b" stroke="#5a3a20" stroke-width="0.75"/>
<circle cx="271.6" cy="417.0" r="1.85" fill="#e4741b" stroke="#5a3a20" stroke-width="0.75"/>
<circle cx="275.0" cy="420.6" r="1.85" fill="#e4741b" stroke="#5a3a20" stroke-width="0.75"/>
<circle cx="230.8" cy="416.6" r="1.85" fill="#e4741b" stroke="#5a3a20" stroke-width="0.75"/>
<circle cx="244.2" cy="420.8" r="1.85" fill="#e4741b" stroke="#5a3a20" stroke-width="0.75"/>
<circle cx="226.8" cy="439.0" r="1.85" fill="#e4741b" stroke="#5a3a20" stroke-width="0.75"/>
<circle cx="244.4" cy="443.6" r="1.85" fill="#e4741b" stroke="#5a3a20" stroke-width="0.75"/>
<circle cx="261.4" cy="439.8" r="1.85" fill="#e4741b" stroke="#5a3a20" stroke-width="0.75"/>
<circle cx="278.0" cy="437.4" r="1.85" fill="#e4741b" stroke="#5a3a20" stroke-width="0.75"/>
<circle cx="265.0" cy="445.0" r="1.85" fill="#e4741b" stroke="#5a3a20" stroke-width="0.75"/>
<circle cx="271.6" cy="443.4" r="1.85" fill="#e4741b" stroke="#5a3a20" stroke-width="0.75"/>
<circle cx="256.2" cy="451.6" r="1.85" fill="#e4741b" stroke="#5a3a20" stroke-width="0.75"/>
<circle cx="262.2" cy="450.6" r="1.85" fill="#e4741b" stroke="#5a3a20" stroke-width="0.75"/>
<circle cx="270.4" cy="453.8" r="1.85" fill="#e4741b" stroke="#5a3a20" stroke-width="0.75"/>
<circle cx="271.0" cy="455.8" r="1.85" fill="#e4741b" stroke="#5a3a20" stroke-width="0.75"/>
<circle cx="279.8" cy="455.6" r="1.85" fill="#e4741b" stroke="#5a3a20" stroke-width="0.75"/>
<circle cx="245.2" cy="459.0" r="1.85" fill="#e4741b" stroke="#5a3a20" stroke-width="0.75"/>
<circle cx="238.0" cy="464.8" r="1.85" fill="#e4741b" stroke="#5a3a20" stroke-width="0.75"/>
<circle cx="241.8" cy="464.0" r="1.85" fill="#e4741b" stroke="#5a3a20" stroke-width="0.75"/>
<circle cx="265.4" cy="465.6" r="1.85" fill="#e4741b" stroke="#5a3a20" stroke-width="0.75"/>
<circle cx="269.8" cy="467.8" r="1.85" fill="#e4741b" stroke="#5a3a20" stroke-width="0.75"/>
<circle cx="230.2" cy="481.8" r="1.85" fill="#e4741b" stroke="#5a3a20" stroke-width="0.75"/>
<circle cx="234.0" cy="484.6" r="1.85" fill="#e4741b" stroke="#5a3a20" stroke-width="0.75"/>
<circle cx="238.4" cy="485.2" r="1.85" fill="#e4741b" stroke="#5a3a20" stroke-width="0.75"/>
<circle cx="243.6" cy="484.0" r="1.85" fill="#e4741b" stroke="#5a3a20" stroke-width="0.75"/>
<circle cx="229.0" cy="486.2" r="1.85" fill="#e4741b" stroke="#5a3a20" stroke-width="0.75"/>
<circle cx="228.8" cy="489.6" r="1.85" fill="#e4741b" stroke="#5a3a20" stroke-width="0.75"/>
<circle cx="228.6" cy="492.4" r="1.85" fill="#e4741b" stroke="#5a3a20" stroke-width="0.75"/>
<circle cx="228.0" cy="496.4" r="1.85" fill="#e4741b" stroke="#5a3a20" stroke-width="0.75"/>
<circle cx="227.2" cy="499.0" r="1.85" fill="#e4741b" stroke="#5a3a20" stroke-width="0.75"/>
<circle cx="229.0" cy="500.0" r="1.85" fill="#e4741b" stroke="#5a3a20" stroke-width="0.75"/>
<circle cx="231.0" cy="495.6" r="1.85" fill="#e4741b" stroke="#5a3a20" stroke-width="0.75"/>
<circle cx="233.0" cy="496.6" r="1.85" fill="#e4741b" stroke="#5a3a20" stroke-width="0.75"/>
<circle cx="235.0" cy="496.6" r="1.85" fill="#e4741b" stroke="#5a3a20" stroke-width="0.75"/>
<circle cx="238.0" cy="498.0" r="1.85" fill="#e4741b" stroke="#5a3a20" stroke-width="0.75"/>
<circle cx="241.0" cy="496.8" r="1.85" fill="#e4741b" stroke="#5a3a20" stroke-width="0.75"/>
<circle cx="242.0" cy="499.6" r="1.85" fill="#e4741b" stroke="#5a3a20" stroke-width="0.75"/>
<circle cx="244.8" cy="499.6" r="1.85" fill="#e4741b" stroke="#5a3a20" stroke-width="0.75"/>
<circle cx="243.2" cy="494.4" r="1.85" fill="#e4741b" stroke="#5a3a20" stroke-width="0.75"/>
<circle cx="244.6" cy="490.0" r="1.85" fill="#e4741b" stroke="#5a3a20" stroke-width="0.75"/>
<circle cx="242.6" cy="487.6" r="1.85" fill="#e4741b" stroke="#5a3a20" stroke-width="0.75"/>
<circle cx="247.0" cy="497.0" r="1.85" fill="#e4741b" stroke="#5a3a20" stroke-width="0.75"/>
<circle cx="249.0" cy="499.0" r="1.85" fill="#e4741b" stroke="#5a3a20" stroke-width="0.75"/>
<circle cx="248.0" cy="484.0" r="1.85" fill="#e4741b" stroke="#5a3a20" stroke-width="0.75"/>
<circle cx="249.6" cy="482.0" r="1.85" fill="#e4741b" stroke="#5a3a20" stroke-width="0.75"/>
<circle cx="251.0" cy="485.0" r="1.85" fill="#e4741b" stroke="#5a3a20" stroke-width="0.75"/>
<circle cx="251.6" cy="489.0" r="1.85" fill="#e4741b" stroke="#5a3a20" stroke-width="0.75"/>
<circle cx="250.0" cy="487.0" r="1.85" fill="#e4741b" stroke="#5a3a20" stroke-width="0.75"/>
<circle cx="252.0" cy="484.0" r="1.85" fill="#e4741b" stroke="#5a3a20" stroke-width="0.75"/>
<circle cx="256.0" cy="488.0" r="1.85" fill="#e4741b" stroke="#5a3a20" stroke-width="0.75"/>
<circle cx="255.0" cy="494.0" r="1.85" fill="#e4741b" stroke="#5a3a20" stroke-width="0.75"/>
<circle cx="255.0" cy="496.8" r="1.85" fill="#e4741b" stroke="#5a3a20" stroke-width="0.75"/>
<circle cx="258.0" cy="494.0" r="1.85" fill="#e4741b" stroke="#5a3a20" stroke-width="0.75"/>
<circle cx="257.2" cy="499.0" r="1.85" fill="#e4741b" stroke="#5a3a20" stroke-width="0.75"/>
<circle cx="258.0" cy="483.0" r="1.85" fill="#e4741b" stroke="#5a3a20" stroke-width="0.75"/>
<circle cx="259.0" cy="488.0" r="1.85" fill="#e4741b" stroke="#5a3a20" stroke-width="0.75"/>
<circle cx="260.0" cy="491.0" r="1.85" fill="#e4741b" stroke="#5a3a20" stroke-width="0.75"/>
<circle cx="262.6" cy="482.6" r="1.85" fill="#e4741b" stroke="#5a3a20" stroke-width="0.75"/>
<circle cx="262.6" cy="486.0" r="1.85" fill="#e4741b" stroke="#5a3a20" stroke-width="0.75"/>
<circle cx="264.0" cy="489.0" r="1.85" fill="#e4741b" stroke="#5a3a20" stroke-width="0.75"/>
<circle cx="266.4" cy="483.0" r="1.85" fill="#e4741b" stroke="#5a3a20" stroke-width="0.75"/>
<circle cx="267.0" cy="487.0" r="1.85" fill="#e4741b" stroke="#5a3a20" stroke-width="0.75"/>
<circle cx="266.0" cy="491.0" r="1.85" fill="#e4741b" stroke="#5a3a20" stroke-width="0.75"/>
<circle cx="264.0" cy="496.0" r="1.85" fill="#e4741b" stroke="#5a3a20" stroke-width="0.75"/>
<circle cx="266.8" cy="495.0" r="1.85" fill="#e4741b" stroke="#5a3a20" stroke-width="0.75"/>
<circle cx="269.0" cy="488.0" r="1.85" fill="#e4741b" stroke="#5a3a20" stroke-width="0.75"/>
<circle cx="269.6" cy="493.0" r="1.85" fill="#e4741b" stroke="#5a3a20" stroke-width="0.75"/>
<circle cx="270.0" cy="496.0" r="1.85" fill="#e4741b" stroke="#5a3a20" stroke-width="0.75"/>
<circle cx="272.0" cy="484.0" r="1.85" fill="#e4741b" stroke="#5a3a20" stroke-width="0.75"/>
<circle cx="275.6" cy="483.2" r="1.85" fill="#e4741b" stroke="#5a3a20" stroke-width="0.75"/>
<circle cx="272.0" cy="490.0" r="1.85" fill="#e4741b" stroke="#5a3a20" stroke-width="0.75"/>
<circle cx="274.0" cy="492.0" r="1.85" fill="#e4741b" stroke="#5a3a20" stroke-width="0.75"/>
<circle cx="276.0" cy="490.0" r="1.85" fill="#e4741b" stroke="#5a3a20" stroke-width="0.75"/>
<circle cx="274.8" cy="496.0" r="1.85" fill="#e4741b" stroke="#5a3a20" stroke-width="0.75"/>
<circle cx="278.0" cy="496.0" r="1.85" fill="#e4741b" stroke="#5a3a20" stroke-width="0.75"/>
<circle cx="276.0" cy="499.0" r="1.85" fill="#e4741b" stroke="#5a3a20" stroke-width="0.75"/>
<circle cx="280.0" cy="487.0" r="1.85" fill="#e4741b" stroke="#5a3a20" stroke-width="0.75"/>
<circle cx="279.8" cy="491.2" r="1.85" fill="#e4741b" stroke="#5a3a20" stroke-width="0.75"/>
<circle cx="273.0" cy="499.0" r="1.85" fill="#e4741b" stroke="#5a3a20" stroke-width="0.75"/>
<circle cx="261.0" cy="497.0" r="1.85" fill="#e4741b" stroke="#5a3a20" stroke-width="0.75"/>
<circle cx="120.0" cy="501.2" r="2.0" fill="#ffff00" stroke="#000" stroke-width="1.0"/>
<circle cx="253.6" cy="501.2" r="2.0" fill="#ffff00" stroke="#000" stroke-width="1.0"/>
<line x1="39.6" x2="39.6" y1="297.8" y2="511.3" stroke="#6c6c6c" stroke-width="1.5"/>
<line x1="38.9" x2="334" y1="510.6" y2="510.6" stroke="#6a6a6a" stroke-width="1.5"/>
<text x="34.9" y="505.45" text-anchor="end" class="t">0</text>
<text x="34.9" y="457.00" text-anchor="end" class="t">1</text>
<text x="34.9" y="408.55" text-anchor="end" class="t">2</text>
<text x="34.9" y="360.10" text-anchor="end" class="t">3</text>
<text x="34.9" y="311.65" text-anchor="end" class="t">4</text>
<text x="0.0" y="289.9" class="lab">c</text>
<text x="190.5" y="293.7" text-anchor="middle" class="tb">4 Weeks Post-operation</text>
<text x="169.2" y="335.8" class="p">P = 0.001</text>
<text x="118.5" y="524.1" text-anchor="middle" class="t">Routine</text>
<text x="120.0" y="537.5" text-anchor="middle" class="t">management</text>
<text x="252.4" y="524.1" text-anchor="middle" class="t">Based on ePRO</text>
<text x="253.6" y="537.5" text-anchor="middle" class="t">symptom management</text>
<text transform="translate(8.2,405.4) rotate(-90)" text-anchor="middle" class="tb">Number of target psychology symptom</text>
<text transform="translate(21.5,405.4) rotate(-90)" text-anchor="middle" class="tb">threshold event</text>
<line x1="391.7" x2="685" y1="477.07" y2="477.07" stroke="#f7f7f7" stroke-width="1"/>
<line x1="391.7" x2="685" y1="428.62" y2="428.62" stroke="#f7f7f7" stroke-width="1"/>
<line x1="391.7" x2="685" y1="380.18" y2="380.18" stroke="#f7f7f7" stroke-width="1"/>
<line x1="391.7" x2="685" y1="331.73" y2="331.73" stroke="#f7f7f7" stroke-width="1"/>
<line x1="391.7" x2="685" y1="501.30" y2="501.30" stroke="#d4e9f2" stroke-width="1"/>
<line x1="391.7" x2="685" y1="452.85" y2="452.85" stroke="#d4e9f2" stroke-width="1"/>
<line x1="391.7" x2="685" y1="404.40" y2="404.40" stroke="#d4e9f2" stroke-width="1"/>
<line x1="391.7" x2="685" y1="355.95" y2="355.95" stroke="#d4e9f2" stroke-width="1"/>
<line x1="391.7" x2="685" y1="307.50" y2="307.50" stroke="#d4e9f2" stroke-width="1"/>
<line x1="471.2" x2="471.2" y1="297.8" y2="510.6" stroke="#d4e9f2" stroke-width="1"/>
<line x1="605.0" x2="605.0" y1="297.8" y2="510.6" stroke="#d4e9f2" stroke-width="1"/>
<path d="M488.20,501.20 L486.20,498.00 L483.70,495.00 L478.20,490.00 L474.70,485.00 L473.00,480.00 L472.30,475.00 L472.80,470.00 L473.60,463.00 L474.60,456.00 L474.95,450.00 L474.40,443.00 L473.00,436.00 L472.00,430.00 L471.52,422.00 L472.30,415.00 L472.80,410.00 L473.35,404.20 L469.05,404.20 L469.60,410.00 L470.10,415.00 L470.88,422.00 L470.40,430.00 L469.40,436.00 L468.00,443.00 L467.45,450.00 L467.80,456.00 L468.80,463.00 L469.60,470.00 L470.10,475.00 L469.40,480.00 L467.70,485.00 L464.20,490.00 L458.70,495.00 L456.20,498.00 L454.20,501.20Z" fill="#5ea6d8" fill-opacity="0.9" stroke="#505356" stroke-width="0.55" stroke-linejoin="round"/>
<path d="M631.50,501.20 L628.50,498.00 L625.00,495.00 L618.00,490.00 L611.00,485.00 L606.50,481.00 L605.32,478.00 L605.32,460.00 L605.90,455.00 L606.30,451.00 L605.90,447.00 L605.32,442.00 L605.32,430.00 L605.32,420.00 L606.20,412.00 L606.80,404.20 L603.20,404.20 L603.80,412.00 L604.68,420.00 L604.68,430.00 L604.68,442.00 L604.10,447.00 L603.70,451.00 L604.10,455.00 L604.68,460.00 L604.68,478.00 L603.50,481.00 L599.00,485.00 L592.00,490.00 L585.00,495.00 L581.50,498.00 L578.50,501.20Z" fill="#e89b60" fill-opacity="0.9" stroke="#505356" stroke-width="0.55" stroke-linejoin="round"/>
<circle cx="471.6" cy="390.0" r="1.85" fill="#2484c9" stroke="#173a57" stroke-width="0.75"/>
<circle cx="484.6" cy="389.8" r="1.85" fill="#2484c9" stroke="#173a57" stroke-width="0.75"/>
<circle cx="491.6" cy="390.0" r="1.85" fill="#2484c9" stroke="#173a57" stroke-width="0.75"/>
<circle cx="458.2" cy="393.2" r="1.85" fill="#2484c9" stroke="#173a57" stroke-width="0.75"/>
<circle cx="453.0" cy="396.0" r="1.85" fill="#2484c9" stroke="#173a57" stroke-width="0.75"/>
<circle cx="452.2" cy="400.0" r="1.85" fill="#2484c9" stroke="#173a57" stroke-width="0.75"/>
<circle cx="472.2" cy="402.8" r="1.85" fill="#2484c9" stroke="#173a57" stroke-width="0.75"/>
<circle cx="458.0" cy="405.8" r="1.85" fill="#2484c9" stroke="#173a57" stroke-width="0.75"/>
<circle cx="465.8" cy="412.2" r="1.85" fill="#2484c9" stroke="#173a57" stroke-width="0.75"/>
<circle cx="486.8" cy="411.0" r="1.85" fill="#2484c9" stroke="#173a57" stroke-width="0.75"/>
<circle cx="468.8" cy="417.2" r="1.85" fill="#2484c9" stroke="#173a57" stroke-width="0.75"/>
<circle cx="474.0" cy="416.2" r="1.85" fill="#2484c9" stroke="#173a57" stroke-width="0.75"/>
<circle cx="494.4" cy="417.4" r="1.85" fill="#2484c9" stroke="#173a57" stroke-width="0.75"/>
<circle cx="448.6" cy="421.0" r="1.85" fill="#2484c9" stroke="#173a57" stroke-width="0.75"/>
<circle cx="449.8" cy="423.4" r="1.85" fill="#2484c9" stroke="#173a57" stroke-width="0.75"/>
<circle cx="445.8" cy="433.6" r="1.85" fill="#2484c9" stroke="#173a57" stroke-width="0.75"/>
<circle cx="449.2" cy="433.6" r="1.85" fill="#2484c9" stroke="#173a57" stroke-width="0.75"/>
<circle cx="484.0" cy="434.8" r="1.85" fill="#2484c9" stroke="#173a57" stroke-width="0.75"/>
<circle cx="486.8" cy="439.8" r="1.85" fill="#2484c9" stroke="#173a57" stroke-width="0.75"/>
<circle cx="490.2" cy="439.2" r="1.85" fill="#2484c9" stroke="#173a57" stroke-width="0.75"/>
<circle cx="492.6" cy="437.4" r="1.85" fill="#2484c9" stroke="#173a57" stroke-width="0.75"/>
<circle cx="495.4" cy="440.0" r="1.85" fill="#2484c9" stroke="#173a57" stroke-width="0.75"/>
<circle cx="497.4" cy="439.8" r="1.85" fill="#2484c9" stroke="#173a57" stroke-width="0.75"/>
<circle cx="491.2" cy="442.8" r="1.85" fill="#2484c9" stroke="#173a57" stroke-width="0.75"/>
<circle cx="451.4" cy="442.4" r="1.85" fill="#2484c9" stroke="#173a57" stroke-width="0.75"/>
<circle cx="474.0" cy="442.2" r="1.85" fill="#2484c9" stroke="#173a57" stroke-width="0.75"/>
<circle cx="481.6" cy="446.8" r="1.85" fill="#2484c9" stroke="#173a57" stroke-width="0.75"/>
<circle cx="487.0" cy="445.8" r="1.85" fill="#2484c9" stroke="#173a57" stroke-width="0.75"/>
<circle cx="461.4" cy="449.0" r="1.85" fill="#2484c9" stroke="#173a57" stroke-width="0.75"/>
<circle cx="478.0" cy="452.6" r="1.85" fill="#2484c9" stroke="#173a57" stroke-width="0.75"/>
<circle cx="453.4" cy="455.0" r="1.85" fill="#2484c9" stroke="#173a57" stroke-width="0.75"/>
<circle cx="459.0" cy="455.2" r="1.85" fill="#2484c9" stroke="#173a57" stroke-width="0.75"/>
<circle cx="470.8" cy="455.4" r="1.85" fill="#2484c9" stroke="#173a57" stroke-width="0.75"/>
<circle cx="472.6" cy="459.8" r="1.85" fill="#2484c9" stroke="#173a57" stroke-width="0.75"/>
<circle cx="446.6" cy="462.2" r="1.85" fill="#2484c9" stroke="#173a57" stroke-width="0.75"/>
<circle cx="454.2" cy="462.6" r="1.85" fill="#2484c9" stroke="#173a57" stroke-width="0.75"/>
<circle cx="461.8" cy="462.2" r="1.85" fill="#2484c9" stroke="#173a57" stroke-width="0.75"/>
<circle cx="479.2" cy="462.2" r="1.85" fill="#2484c9" stroke="#173a57" stroke-width="0.75"/>
<circle cx="497.6" cy="463.4" r="1.85" fill="#2484c9" stroke="#173a57" stroke-width="0.75"/>
<circle cx="448.0" cy="466.4" r="1.85" fill="#2484c9" stroke="#173a57" stroke-width="0.75"/>
<circle cx="456.6" cy="468.6" r="1.85" fill="#2484c9" stroke="#173a57" stroke-width="0.75"/>
<circle cx="477.0" cy="468.8" r="1.85" fill="#2484c9" stroke="#173a57" stroke-width="0.75"/>
<circle cx="491.4" cy="467.6" r="1.85" fill="#2484c9" stroke="#173a57" stroke-width="0.75"/>
<circle cx="490.4" cy="470.0" r="1.85" fill="#2484c9" stroke="#173a57" stroke-width="0.75"/>
<circle cx="492.6" cy="472.0" r="1.85" fill="#2484c9" stroke="#173a57" stroke-width="0.75"/>
<circle cx="449.8" cy="482.8" r="1.85" fill="#2484c9" stroke="#173a57" stroke-width="0.75"/>
<circle cx="448.0" cy="485.0" r="1.85" fill="#2484c9" stroke="#173a57" stroke-width="0.75"/>
<circle cx="446.0" cy="486.2" r="1.85" fill="#2484c9" stroke="#173a57" stroke-width="0.75"/>
<circle cx="449.2" cy="487.4" r="1.85" fill="#2484c9" stroke="#173a57" stroke-width="0.75"/>
<circle cx="452.2" cy="485.8" r="1.85" fill="#2484c9" stroke="#173a57" stroke-width="0.75"/>
<circle cx="454.6" cy="483.0" r="1.85" fill="#2484c9" stroke="#173a57" stroke-width="0.75"/>
<circle cx="444.4" cy="491.2" r="1.85" fill="#2484c9" stroke="#173a57" stroke-width="0.75"/>
<circle cx="447.0" cy="494.0" r="1.85" fill="#2484c9" stroke="#173a57" stroke-width="0.75"/>
<circle cx="450.2" cy="495.2" r="1.85" fill="#2484c9" stroke="#173a57" stroke-width="0.75"/>
<circle cx="453.0" cy="494.4" r="1.85" fill="#2484c9" stroke="#173a57" stroke-width="0.75"/>
<circle cx="452.2" cy="499.0" r="1.85" fill="#2484c9" stroke="#173a57" stroke-width="0.75"/>
<circle cx="448.8" cy="500.8" r="1.85" fill="#2484c9" stroke="#173a57" stroke-width="0.75"/>
<circle cx="455.6" cy="488.6" r="1.85" fill="#2484c9" stroke="#173a57" stroke-width="0.75"/>
<circle cx="458.0" cy="490.6" r="1.85" fill="#2484c9" stroke="#173a57" stroke-width="0.75"/>
<circle cx="461.0" cy="491.4" r="1.85" fill="#2484c9" stroke="#173a57" stroke-width="0.75"/>
<circle cx="457.6" cy="495.6" r="1.85" fill="#2484c9" stroke="#173a57" stroke-width="0.75"/>
<circle cx="461.0" cy="496.6" r="1.85" fill="#2484c9" stroke="#173a57" stroke-width="0.75"/>
<circle cx="463.4" cy="499.0" r="1.85" fill="#2484c9" stroke="#173a57" stroke-width="0.75"/>
<circle cx="464.2" cy="483.4" r="1.85" fill="#2484c9" stroke="#173a57" stroke-width="0.75"/>
<circle cx="468.8" cy="482.2" r="1.85" fill="#2484c9" stroke="#173a57" stroke-width="0.75"/>
<circle cx="468.2" cy="485.4" r="1.85" fill="#2484c9" stroke="#173a57" stroke-width="0.75"/>
<circle cx="466.6" cy="488.0" r="1.85" fill="#2484c9" stroke="#173a57" stroke-width="0.75"/>
<circle cx="470.0" cy="487.8" r="1.85" fill="#2484c9" stroke="#173a57" stroke-width="0.75"/>
<circle cx="465.6" cy="491.0" r="1.85" fill="#2484c9" stroke="#173a57" stroke-width="0.75"/>
<circle cx="468.0" cy="493.4" r="1.85" fill="#2484c9" stroke="#173a57" stroke-width="0.75"/>
<circle cx="466.8" cy="497.0" r="1.85" fill="#2484c9" stroke="#173a57" stroke-width="0.75"/>
<circle cx="469.6" cy="496.0" r="1.85" fill="#2484c9" stroke="#173a57" stroke-width="0.75"/>
<circle cx="467.2" cy="500.4" r="1.85" fill="#2484c9" stroke="#173a57" stroke-width="0.75"/>
<circle cx="473.2" cy="492.8" r="1.85" fill="#2484c9" stroke="#173a57" stroke-width="0.75"/>
<circle cx="473.6" cy="496.2" r="1.85" fill="#2484c9" stroke="#173a57" stroke-width="0.75"/>
<circle cx="471.0" cy="496.6" r="1.85" fill="#2484c9" stroke="#173a57" stroke-width="0.75"/>
<circle cx="477.0" cy="494.6" r="1.85" fill="#2484c9" stroke="#173a57" stroke-width="0.75"/>
<circle cx="477.0" cy="483.0" r="1.85" fill="#2484c9" stroke="#173a57" stroke-width="0.75"/>
<circle cx="480.6" cy="482.0" r="1.85" fill="#2484c9" stroke="#173a57" stroke-width="0.75"/>
<circle cx="483.0" cy="483.6" r="1.85" fill="#2484c9" stroke="#173a57" stroke-width="0.75"/>
<circle cx="479.0" cy="488.0" r="1.85" fill="#2484c9" stroke="#173a57" stroke-width="0.75"/>
<circle cx="482.0" cy="490.6" r="1.85" fill="#2484c9" stroke="#173a57" stroke-width="0.75"/>
<circle cx="477.2" cy="490.6" r="1.85" fill="#2484c9" stroke="#173a57" stroke-width="0.75"/>
<circle cx="486.0" cy="488.0" r="1.85" fill="#2484c9" stroke="#173a57" stroke-width="0.75"/>
<circle cx="489.0" cy="485.0" r="1.85" fill="#2484c9" stroke="#173a57" stroke-width="0.75"/>
<circle cx="493.6" cy="481.6" r="1.85" fill="#2484c9" stroke="#173a57" stroke-width="0.75"/>
<circle cx="496.4" cy="484.0" r="1.85" fill="#2484c9" stroke="#173a57" stroke-width="0.75"/>
<circle cx="494.2" cy="488.4" r="1.85" fill="#2484c9" stroke="#173a57" stroke-width="0.75"/>
<circle cx="486.6" cy="492.2" r="1.85" fill="#2484c9" stroke="#173a57" stroke-width="0.75"/>
<circle cx="490.0" cy="493.0" r="1.85" fill="#2484c9" stroke="#173a57" stroke-width="0.75"/>
<circle cx="488.4" cy="496.2" r="1.85" fill="#2484c9" stroke="#173a57" stroke-width="0.75"/>
<circle cx="491.0" cy="495.0" r="1.85" fill="#2484c9" stroke="#173a57" stroke-width="0.75"/>
<circle cx="494.2" cy="496.6" r="1.85" fill="#2484c9" stroke="#173a57" stroke-width="0.75"/>
<circle cx="493.6" cy="500.0" r="1.85" fill="#2484c9" stroke="#173a57" stroke-width="0.75"/>
<circle cx="602.6" cy="386.0" r="1.85" fill="#e4741b" stroke="#5a3a20" stroke-width="0.75"/>
<circle cx="608.4" cy="388.6" r="1.85" fill="#e4741b" stroke="#5a3a20" stroke-width="0.75"/>
<circle cx="608.2" cy="390.8" r="1.85" fill="#e4741b" stroke="#5a3a20" stroke-width="0.75"/>
<circle cx="605.4" cy="393.6" r="1.85" fill="#e4741b" stroke="#5a3a20" stroke-width="0.75"/>
<circle cx="626.2" cy="387.6" r="1.85" fill="#e4741b" stroke="#5a3a20" stroke-width="0.75"/>
<circle cx="578.8" cy="393.4" r="1.85" fill="#e4741b" stroke="#5a3a20" stroke-width="0.75"/>
<circle cx="590.2" cy="394.8" r="1.85" fill="#e4741b" stroke="#5a3a20" stroke-width="0.75"/>
<circle cx="629.0" cy="396.6" r="1.85" fill="#e4741b" stroke="#5a3a20" stroke-width="0.75"/>
<circle cx="629.0" cy="401.8" r="1.85" fill="#e4741b" stroke="#5a3a20" stroke-width="0.75"/>
<circle cx="600.0" cy="407.2" r="1.85" fill="#e4741b" stroke="#5a3a20" stroke-width="0.75"/>
<circle cx="611.0" cy="441.8" r="1.85" fill="#e4741b" stroke="#5a3a20" stroke-width="0.75"/>
<circle cx="615.4" cy="445.2" r="1.85" fill="#e4741b" stroke="#5a3a20" stroke-width="0.75"/>
<circle cx="585.4" cy="453.0" r="1.85" fill="#e4741b" stroke="#5a3a20" stroke-width="0.75"/>
<circle cx="630.6" cy="459.4" r="1.85" fill="#e4741b" stroke="#5a3a20" stroke-width="0.75"/>
<circle cx="616.0" cy="465.6" r="1.85" fill="#e4741b" stroke="#5a3a20" stroke-width="0.75"/>
<circle cx="590.4" cy="468.8" r="1.85" fill="#e4741b" stroke="#5a3a20" stroke-width="0.75"/>
<circle cx="586.8" cy="482.0" r="1.85" fill="#e4741b" stroke="#5a3a20" stroke-width="0.75"/>
<circle cx="589.6" cy="483.0" r="1.85" fill="#e4741b" stroke="#5a3a20" stroke-width="0.75"/>
<circle cx="594.0" cy="482.6" r="1.85" fill="#e4741b" stroke="#5a3a20" stroke-width="0.75"/>
<circle cx="598.4" cy="483.0" r="1.85" fill="#e4741b" stroke="#5a3a20" stroke-width="0.75"/>
<circle cx="589.4" cy="485.6" r="1.85" fill="#e4741b" stroke="#5a3a20" stroke-width="0.75"/>
<circle cx="579.0" cy="486.6" r="1.85" fill="#e4741b" stroke="#5a3a20" stroke-width="0.75"/>
<circle cx="588.6" cy="488.0" r="1.85" fill="#e4741b" stroke="#5a3a20" stroke-width="0.75"/>
<circle cx="592.0" cy="487.8" r="1.85" fill="#e4741b" stroke="#5a3a20" stroke-width="0.75"/>
<circle cx="595.2" cy="488.0" r="1.85" fill="#e4741b" stroke="#5a3a20" stroke-width="0.75"/>
<circle cx="599.8" cy="487.2" r="1.85" fill="#e4741b" stroke="#5a3a20" stroke-width="0.75"/>
<circle cx="580.6" cy="491.2" r="1.85" fill="#e4741b" stroke="#5a3a20" stroke-width="0.75"/>
<circle cx="584.6" cy="490.0" r="1.85" fill="#e4741b" stroke="#5a3a20" stroke-width="0.75"/>
<circle cx="586.0" cy="493.6" r="1.85" fill="#e4741b" stroke="#5a3a20" stroke-width="0.75"/>
<circle cx="590.0" cy="491.2" r="1.85" fill="#e4741b" stroke="#5a3a20" stroke-width="0.75"/>
<circle cx="592.6" cy="489.6" r="1.85" fill="#e4741b" stroke="#5a3a20" stroke-width="0.75"/>
<circle cx="595.0" cy="492.2" r="1.85" fill="#e4741b" stroke="#5a3a20" stroke-width="0.75"/>
<circle cx="597.6" cy="491.0" r="1.85" fill="#e4741b" stroke="#5a3a20" stroke-width="0.75"/>
<circle cx="578.6" cy="497.2" r="1.85" fill="#e4741b" stroke="#5a3a20" stroke-width="0.75"/>
<circle cx="581.4" cy="500.6" r="1.85" fill="#e4741b" stroke="#5a3a20" stroke-width="0.75"/>
<circle cx="584.0" cy="497.0" r="1.85" fill="#e4741b" stroke="#5a3a20" stroke-width="0.75"/>
<circle cx="586.6" cy="497.6" r="1.85" fill="#e4741b" stroke="#5a3a20" stroke-width="0.75"/>
<circle cx="589.0" cy="500.0" r="1.85" fill="#e4741b" stroke="#5a3a20" stroke-width="0.75"/>
<circle cx="589.8" cy="494.6" r="1.85" fill="#e4741b" stroke="#5a3a20" stroke-width="0.75"/>
<circle cx="592.4" cy="499.0" r="1.85" fill="#e4741b" stroke="#5a3a20" stroke-width="0.75"/>
<circle cx="595.0" cy="495.0" r="1.85" fill="#e4741b" stroke="#5a3a20" stroke-width="0.75"/>
<circle cx="597.2" cy="499.0" r="1.85" fill="#e4741b" stroke="#5a3a20" stroke-width="0.75"/>
<circle cx="599.6" cy="500.6" r="1.85" fill="#e4741b" stroke="#5a3a20" stroke-width="0.75"/>
<circle cx="602.0" cy="493.0" r="1.85" fill="#e4741b" stroke="#5a3a20" stroke-width="0.75"/>
<circle cx="603.2" cy="494.0" r="1.85" fill="#e4741b" stroke="#5a3a20" stroke-width="0.75"/>
<circle cx="605.4" cy="490.0" r="1.85" fill="#e4741b" stroke="#5a3a20" stroke-width="0.75"/>
<circle cx="606.0" cy="488.0" r="1.85" fill="#e4741b" stroke="#5a3a20" stroke-width="0.75"/>
<circle cx="605.0" cy="497.0" r="1.85" fill="#e4741b" stroke="#5a3a20" stroke-width="0.75"/>
<circle cx="609.0" cy="482.0" r="1.85" fill="#e4741b" stroke="#5a3a20" stroke-width="0.75"/>
<circle cx="609.2" cy="484.0" r="1.85" fill="#e4741b" stroke="#5a3a20" stroke-width="0.75"/>
<circle cx="613.0" cy="486.0" r="1.85" fill="#e4741b" stroke="#5a3a20" stroke-width="0.75"/>
<circle cx="615.0" cy="486.8" r="1.85" fill="#e4741b" stroke="#5a3a20" stroke-width="0.75"/>
<circle cx="610.4" cy="491.0" r="1.85" fill="#e4741b" stroke="#5a3a20" stroke-width="0.75"/>
<circle cx="613.0" cy="492.0" r="1.85" fill="#e4741b" stroke="#5a3a20" stroke-width="0.75"/>
<circle cx="612.0" cy="497.0" r="1.85" fill="#e4741b" stroke="#5a3a20" stroke-width="0.75"/>
<circle cx="615.0" cy="496.0" r="1.85" fill="#e4741b" stroke="#5a3a20" stroke-width="0.75"/>
<circle cx="617.6" cy="482.2" r="1.85" fill="#e4741b" stroke="#5a3a20" stroke-width="0.75"/>
<circle cx="620.4" cy="482.2" r="1.85" fill="#e4741b" stroke="#5a3a20" stroke-width="0.75"/>
<circle cx="619.0" cy="495.0" r="1.85" fill="#e4741b" stroke="#5a3a20" stroke-width="0.75"/>
<circle cx="619.6" cy="500.6" r="1.85" fill="#e4741b" stroke="#5a3a20" stroke-width="0.75"/>
<circle cx="621.0" cy="490.0" r="1.85" fill="#e4741b" stroke="#5a3a20" stroke-width="0.75"/>
<circle cx="623.0" cy="488.0" r="1.85" fill="#e4741b" stroke="#5a3a20" stroke-width="0.75"/>
<circle cx="626.0" cy="486.0" r="1.85" fill="#e4741b" stroke="#5a3a20" stroke-width="0.75"/>
<circle cx="627.0" cy="481.8" r="1.85" fill="#e4741b" stroke="#5a3a20" stroke-width="0.75"/>
<circle cx="629.6" cy="488.4" r="1.85" fill="#e4741b" stroke="#5a3a20" stroke-width="0.75"/>
<circle cx="625.8" cy="491.0" r="1.85" fill="#e4741b" stroke="#5a3a20" stroke-width="0.75"/>
<circle cx="628.2" cy="493.4" r="1.85" fill="#e4741b" stroke="#5a3a20" stroke-width="0.75"/>
<circle cx="623.0" cy="498.0" r="1.85" fill="#e4741b" stroke="#5a3a20" stroke-width="0.75"/>
<circle cx="625.0" cy="500.0" r="1.85" fill="#e4741b" stroke="#5a3a20" stroke-width="0.75"/>
<circle cx="585.0" cy="499.0" r="1.85" fill="#e4741b" stroke="#5a3a20" stroke-width="0.75"/>
<circle cx="471.2" cy="501.2" r="2.0" fill="#ffff00" stroke="#000" stroke-width="1.0"/>
<circle cx="605.0" cy="501.2" r="2.0" fill="#ffff00" stroke="#000" stroke-width="1.0"/>
<line x1="390.9" x2="390.9" y1="297.8" y2="511.3" stroke="#a2a2a2" stroke-width="2"/>
<line x1="390.2" x2="685" y1="510.6" y2="510.6" stroke="#6a6a6a" stroke-width="1.5"/>
<text x="386.1" y="505.45" text-anchor="end" class="t">0</text>
<text x="386.1" y="457.00" text-anchor="end" class="t">1</text>
<text x="386.1" y="408.55" text-anchor="end" class="t">2</text>
<text x="386.1" y="360.10" text-anchor="end" class="t">3</text>
<text x="386.1" y="311.65" text-anchor="end" class="t">4</text>
<text x="350.3" y="289.4" class="lab">d</text>
<text x="542.2" y="293.7" text-anchor="middle" class="tb">12 Weeks Post-operation</text>
<text x="518.6" y="335.8" class="p">P = 0.014</text>
<text x="464.59999999999997" y="524.1" text-anchor="middle" class="t">Routine</text>
<text x="466.09999999999997" y="537.5" text-anchor="middle" class="t">management</text>
<text x="598.6999999999999" y="524.1" text-anchor="middle" class="t">Based on ePRO</text>
<text x="599.9" y="537.5" text-anchor="middle" class="t">symptom management</text>
<text transform="translate(360.1,405.4) rotate(-90)" text-anchor="middle" class="tb">Number of target psychology symptom</text>
<text transform="translate(373.1,405.4) rotate(-90)" text-anchor="middle" class="tb">threshold event</text>
</svg>
</body></html>
